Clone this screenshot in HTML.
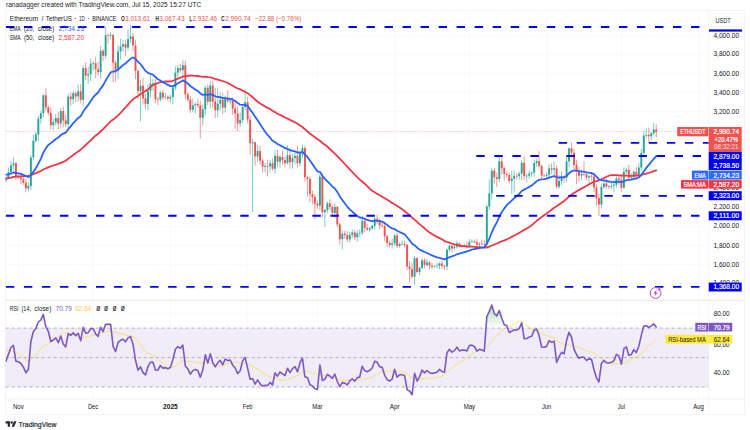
<!DOCTYPE html>
<html><head><meta charset="utf-8"><title>ETHUSDT</title>
<style>html,body{margin:0;padding:0;background:#fff;}body{width:750px;height:430px;overflow:hidden;position:relative;font-family:"Liberation Sans", sans-serif;}</style>
</head><body>
<svg width="750" height="430" viewBox="0 0 750 430" style="position:absolute;left:0;top:0;font-family:"Liberation Sans", sans-serif;filter:blur(0.35px)">
<rect width="750" height="430" fill="#fff"/>
<rect x="5.5" y="328.1" width="703.2" height="58.9" fill="#f0edf9"/>
<line x1="5.5" x2="708.7" y1="283.7" y2="283.7" stroke="#eef0f5" stroke-width="0.7" stroke-dasharray="1.1 0.9"/>
<line x1="5.5" x2="708.7" y1="264.6" y2="264.6" stroke="#eef0f5" stroke-width="0.7" stroke-dasharray="1.1 0.9"/>
<line x1="5.5" x2="708.7" y1="245.5" y2="245.5" stroke="#eef0f5" stroke-width="0.7" stroke-dasharray="1.1 0.9"/>
<line x1="5.5" x2="708.7" y1="226.4" y2="226.4" stroke="#eef0f5" stroke-width="0.7" stroke-dasharray="1.1 0.9"/>
<line x1="5.5" x2="708.7" y1="207.3" y2="207.3" stroke="#eef0f5" stroke-width="0.7" stroke-dasharray="1.1 0.9"/>
<line x1="5.5" x2="708.7" y1="188.2" y2="188.2" stroke="#eef0f5" stroke-width="0.7" stroke-dasharray="1.1 0.9"/>
<line x1="5.5" x2="708.7" y1="169.1" y2="169.1" stroke="#eef0f5" stroke-width="0.7" stroke-dasharray="1.1 0.9"/>
<line x1="5.5" x2="708.7" y1="149.9" y2="149.9" stroke="#eef0f5" stroke-width="0.7" stroke-dasharray="1.1 0.9"/>
<line x1="5.5" x2="708.7" y1="130.8" y2="130.8" stroke="#eef0f5" stroke-width="0.7" stroke-dasharray="1.1 0.9"/>
<line x1="5.5" x2="708.7" y1="111.7" y2="111.7" stroke="#eef0f5" stroke-width="0.7" stroke-dasharray="1.1 0.9"/>
<line x1="5.5" x2="708.7" y1="92.6" y2="92.6" stroke="#eef0f5" stroke-width="0.7" stroke-dasharray="1.1 0.9"/>
<line x1="5.5" x2="708.7" y1="73.5" y2="73.5" stroke="#eef0f5" stroke-width="0.7" stroke-dasharray="1.1 0.9"/>
<line x1="5.5" x2="708.7" y1="54.4" y2="54.4" stroke="#eef0f5" stroke-width="0.7" stroke-dasharray="1.1 0.9"/>
<line x1="5.5" x2="708.7" y1="35.3" y2="35.3" stroke="#eef0f5" stroke-width="0.7" stroke-dasharray="1.1 0.9"/>
<line x1="18.4" x2="18.4" y1="10.5" y2="399.0" stroke="#eef0f5" stroke-width="0.7" stroke-dasharray="1.1 0.9"/>
<line x1="93.1" x2="93.1" y1="10.5" y2="399.0" stroke="#eef0f5" stroke-width="0.7" stroke-dasharray="1.1 0.9"/>
<line x1="170.4" x2="170.4" y1="10.5" y2="399.0" stroke="#eef0f5" stroke-width="0.7" stroke-dasharray="1.1 0.9"/>
<line x1="247.6" x2="247.6" y1="10.5" y2="399.0" stroke="#eef0f5" stroke-width="0.7" stroke-dasharray="1.1 0.9"/>
<line x1="317.4" x2="317.4" y1="10.5" y2="399.0" stroke="#eef0f5" stroke-width="0.7" stroke-dasharray="1.1 0.9"/>
<line x1="394.6" x2="394.6" y1="10.5" y2="399.0" stroke="#eef0f5" stroke-width="0.7" stroke-dasharray="1.1 0.9"/>
<line x1="469.4" x2="469.4" y1="10.5" y2="399.0" stroke="#eef0f5" stroke-width="0.7" stroke-dasharray="1.1 0.9"/>
<line x1="546.6" x2="546.6" y1="10.5" y2="399.0" stroke="#eef0f5" stroke-width="0.7" stroke-dasharray="1.1 0.9"/>
<line x1="621.4" x2="621.4" y1="10.5" y2="399.0" stroke="#eef0f5" stroke-width="0.7" stroke-dasharray="1.1 0.9"/>
<line x1="698.6" x2="698.6" y1="10.5" y2="399.0" stroke="#eef0f5" stroke-width="0.7" stroke-dasharray="1.1 0.9"/>
<line x1="5.5" x2="708.7" y1="372.3" y2="372.3" stroke="#eef0f5" stroke-width="0.7" stroke-dasharray="1.1 0.9"/>
<line x1="5.5" x2="708.7" y1="342.8" y2="342.8" stroke="#eef0f5" stroke-width="0.7" stroke-dasharray="1.1 0.9"/>
<line x1="5.5" x2="708.7" y1="313.4" y2="313.4" stroke="#eef0f5" stroke-width="0.7" stroke-dasharray="1.1 0.9"/>
<rect x="5.5" y="10.5" width="739.1" height="404.1" fill="none" stroke="#e1e4ea" stroke-width="0.7" stroke-dasharray="1.1 0.9"/>
<line x1="708.7" x2="708.7" y1="10.5" y2="414.6" stroke="#e1e4ea" stroke-width="0.7" stroke-dasharray="1.1 0.9"/>
<line x1="5.5" x2="744.6" y1="300.2" y2="300.2" stroke="#e1e4ea" stroke-width="0.9"/>
<line x1="5.5" x2="744.6" y1="399.0" y2="399.0" stroke="#e1e4ea" stroke-width="0.7" stroke-dasharray="1.1 0.9"/>
<clipPath id="cp"><rect x="5.5" y="10.5" width="703.2" height="289.7"/></clipPath>
<clipPath id="rp"><rect x="5.5" y="300.2" width="703.2" height="98.8"/></clipPath>
<g clip-path="url(#cp)">
<line x1="5.5" x2="708.7" y1="131.7" y2="131.7" stroke="#ef5350" stroke-width="0.6" stroke-dasharray="0.6 0.9" opacity="0.8"/>
<line x1="5.94" x2="5.94" y1="175.2" y2="182.4" stroke="#26a69a" stroke-width="0.6"/>
<rect x="4.99" y="177.9" width="1.9" height="2.6" fill="#26a69a"/>
<line x1="8.43" x2="8.43" y1="167.6" y2="179.5" stroke="#26a69a" stroke-width="0.6"/>
<rect x="7.48" y="172.1" width="1.9" height="5.8" fill="#26a69a"/>
<line x1="10.93" x2="10.93" y1="161.2" y2="175.2" stroke="#26a69a" stroke-width="0.6"/>
<rect x="9.98" y="165.4" width="1.9" height="6.7" fill="#26a69a"/>
<line x1="13.42" x2="13.42" y1="157.4" y2="169.3" stroke="#26a69a" stroke-width="0.6"/>
<rect x="12.47" y="163.3" width="1.9" height="2.1" fill="#26a69a"/>
<line x1="15.91" x2="15.91" y1="162.0" y2="180.2" stroke="#ef5350" stroke-width="0.6"/>
<rect x="14.96" y="163.3" width="1.9" height="13.6" fill="#ef5350"/>
<line x1="18.40" x2="18.40" y1="175.4" y2="179.1" stroke="#ef5350" stroke-width="0.6"/>
<rect x="17.45" y="176.9" width="1.9" height="0.6" fill="#ef5350"/>
<line x1="20.89" x2="20.89" y1="174.2" y2="184.4" stroke="#ef5350" stroke-width="0.6"/>
<rect x="19.94" y="177.5" width="1.9" height="1.7" fill="#ef5350"/>
<line x1="23.38" x2="23.38" y1="177.5" y2="184.9" stroke="#ef5350" stroke-width="0.6"/>
<rect x="22.43" y="179.2" width="1.9" height="3.5" fill="#ef5350"/>
<line x1="25.87" x2="25.87" y1="178.6" y2="192.3" stroke="#ef5350" stroke-width="0.6"/>
<rect x="24.92" y="182.7" width="1.9" height="5.6" fill="#ef5350"/>
<line x1="28.37" x2="28.37" y1="182.1" y2="191.4" stroke="#26a69a" stroke-width="0.6"/>
<rect x="27.42" y="186.0" width="1.9" height="2.4" fill="#26a69a"/>
<line x1="30.86" x2="30.86" y1="155.2" y2="190.1" stroke="#26a69a" stroke-width="0.6"/>
<rect x="29.91" y="157.4" width="1.9" height="28.6" fill="#26a69a"/>
<line x1="33.35" x2="33.35" y1="134.5" y2="160.4" stroke="#26a69a" stroke-width="0.6"/>
<rect x="32.40" y="140.8" width="1.9" height="16.6" fill="#26a69a"/>
<line x1="35.84" x2="35.84" y1="132.3" y2="142.8" stroke="#26a69a" stroke-width="0.6"/>
<rect x="34.89" y="134.5" width="1.9" height="6.3" fill="#26a69a"/>
<line x1="38.33" x2="38.33" y1="115.4" y2="141.0" stroke="#26a69a" stroke-width="0.6"/>
<rect x="37.38" y="118.7" width="1.9" height="15.8" fill="#26a69a"/>
<line x1="40.82" x2="40.82" y1="110.7" y2="123.8" stroke="#26a69a" stroke-width="0.6"/>
<rect x="39.87" y="113.3" width="1.9" height="5.4" fill="#26a69a"/>
<line x1="43.32" x2="43.32" y1="94.1" y2="117.3" stroke="#26a69a" stroke-width="0.6"/>
<rect x="42.37" y="95.3" width="1.9" height="18.0" fill="#26a69a"/>
<line x1="45.81" x2="45.81" y1="88.3" y2="110.8" stroke="#ef5350" stroke-width="0.6"/>
<rect x="44.86" y="95.3" width="1.9" height="12.1" fill="#ef5350"/>
<line x1="48.30" x2="48.30" y1="105.6" y2="115.6" stroke="#ef5350" stroke-width="0.6"/>
<rect x="47.35" y="107.4" width="1.9" height="5.4" fill="#ef5350"/>
<line x1="50.79" x2="50.79" y1="107.3" y2="129.1" stroke="#ef5350" stroke-width="0.6"/>
<rect x="49.84" y="112.9" width="1.9" height="12.2" fill="#ef5350"/>
<line x1="53.28" x2="53.28" y1="118.9" y2="130.1" stroke="#26a69a" stroke-width="0.6"/>
<rect x="52.33" y="122.2" width="1.9" height="2.9" fill="#26a69a"/>
<line x1="55.77" x2="55.77" y1="113.9" y2="125.5" stroke="#26a69a" stroke-width="0.6"/>
<rect x="54.82" y="118.1" width="1.9" height="4.1" fill="#26a69a"/>
<line x1="58.27" x2="58.27" y1="111.9" y2="129.2" stroke="#ef5350" stroke-width="0.6"/>
<rect x="57.32" y="118.1" width="1.9" height="5.4" fill="#ef5350"/>
<line x1="60.76" x2="60.76" y1="108.0" y2="128.6" stroke="#26a69a" stroke-width="0.6"/>
<rect x="59.81" y="111.1" width="1.9" height="12.4" fill="#26a69a"/>
<line x1="63.25" x2="63.25" y1="106.4" y2="127.4" stroke="#ef5350" stroke-width="0.6"/>
<rect x="62.30" y="111.1" width="1.9" height="9.5" fill="#ef5350"/>
<line x1="65.74" x2="65.74" y1="114.7" y2="127.3" stroke="#ef5350" stroke-width="0.6"/>
<rect x="64.79" y="120.5" width="1.9" height="3.6" fill="#ef5350"/>
<line x1="68.23" x2="68.23" y1="93.6" y2="128.0" stroke="#26a69a" stroke-width="0.6"/>
<rect x="67.28" y="96.6" width="1.9" height="27.5" fill="#26a69a"/>
<line x1="70.72" x2="70.72" y1="92.3" y2="105.8" stroke="#ef5350" stroke-width="0.6"/>
<rect x="69.77" y="96.6" width="1.9" height="2.6" fill="#ef5350"/>
<line x1="73.22" x2="73.22" y1="90.6" y2="104.1" stroke="#26a69a" stroke-width="0.6"/>
<rect x="72.27" y="93.2" width="1.9" height="6.0" fill="#26a69a"/>
<line x1="75.71" x2="75.71" y1="91.4" y2="102.4" stroke="#ef5350" stroke-width="0.6"/>
<rect x="74.76" y="93.2" width="1.9" height="3.2" fill="#ef5350"/>
<line x1="78.20" x2="78.20" y1="84.5" y2="101.8" stroke="#26a69a" stroke-width="0.6"/>
<rect x="77.25" y="91.3" width="1.9" height="5.1" fill="#26a69a"/>
<line x1="80.69" x2="80.69" y1="84.0" y2="103.4" stroke="#ef5350" stroke-width="0.6"/>
<rect x="79.74" y="91.3" width="1.9" height="8.5" fill="#ef5350"/>
<line x1="83.18" x2="83.18" y1="65.4" y2="105.8" stroke="#26a69a" stroke-width="0.6"/>
<rect x="82.23" y="68.1" width="1.9" height="31.7" fill="#26a69a"/>
<line x1="85.67" x2="85.67" y1="62.3" y2="80.4" stroke="#ef5350" stroke-width="0.6"/>
<rect x="84.72" y="68.1" width="1.9" height="7.5" fill="#ef5350"/>
<line x1="88.16" x2="88.16" y1="66.5" y2="83.9" stroke="#26a69a" stroke-width="0.6"/>
<rect x="87.21" y="74.2" width="1.9" height="1.3" fill="#26a69a"/>
<line x1="90.66" x2="90.66" y1="58.4" y2="80.8" stroke="#26a69a" stroke-width="0.6"/>
<rect x="89.71" y="63.6" width="1.9" height="10.6" fill="#26a69a"/>
<line x1="93.15" x2="93.15" y1="61.1" y2="70.5" stroke="#26a69a" stroke-width="0.6"/>
<rect x="92.20" y="63.2" width="1.9" height="0.6" fill="#26a69a"/>
<line x1="95.64" x2="95.64" y1="56.8" y2="78.2" stroke="#ef5350" stroke-width="0.6"/>
<rect x="94.69" y="63.2" width="1.9" height="6.1" fill="#ef5350"/>
<line x1="98.13" x2="98.13" y1="61.7" y2="75.8" stroke="#ef5350" stroke-width="0.6"/>
<rect x="97.18" y="69.3" width="1.9" height="2.8" fill="#ef5350"/>
<line x1="100.62" x2="100.62" y1="46.1" y2="78.9" stroke="#26a69a" stroke-width="0.6"/>
<rect x="99.67" y="50.8" width="1.9" height="21.3" fill="#26a69a"/>
<line x1="103.11" x2="103.11" y1="48.9" y2="61.0" stroke="#ef5350" stroke-width="0.6"/>
<rect x="102.16" y="50.8" width="1.9" height="5.0" fill="#ef5350"/>
<line x1="105.61" x2="105.61" y1="27.0" y2="58.5" stroke="#26a69a" stroke-width="0.6"/>
<rect x="104.66" y="35.4" width="1.9" height="20.4" fill="#26a69a"/>
<line x1="108.10" x2="108.10" y1="33.1" y2="43.5" stroke="#ef5350" stroke-width="0.6"/>
<rect x="107.15" y="35.4" width="1.9" height="0.6" fill="#ef5350"/>
<line x1="110.59" x2="110.59" y1="32.0" y2="39.4" stroke="#26a69a" stroke-width="0.6"/>
<rect x="109.64" y="34.8" width="1.9" height="0.8" fill="#26a69a"/>
<line x1="113.08" x2="113.08" y1="34.8" y2="82.1" stroke="#ef5350" stroke-width="0.6"/>
<rect x="112.13" y="34.8" width="1.9" height="27.9" fill="#ef5350"/>
<line x1="115.57" x2="115.57" y1="60.5" y2="81.6" stroke="#ef5350" stroke-width="0.6"/>
<rect x="114.62" y="62.7" width="1.9" height="8.1" fill="#ef5350"/>
<line x1="118.06" x2="118.06" y1="45.4" y2="79.3" stroke="#26a69a" stroke-width="0.6"/>
<rect x="117.11" y="51.4" width="1.9" height="19.5" fill="#26a69a"/>
<line x1="120.56" x2="120.56" y1="38.5" y2="59.8" stroke="#26a69a" stroke-width="0.6"/>
<rect x="119.61" y="46.6" width="1.9" height="4.8" fill="#26a69a"/>
<line x1="123.05" x2="123.05" y1="40.2" y2="51.6" stroke="#26a69a" stroke-width="0.6"/>
<rect x="122.10" y="44.2" width="1.9" height="2.4" fill="#26a69a"/>
<line x1="125.54" x2="125.54" y1="39.7" y2="56.2" stroke="#ef5350" stroke-width="0.6"/>
<rect x="124.59" y="44.2" width="1.9" height="3.4" fill="#ef5350"/>
<line x1="128.03" x2="128.03" y1="29.8" y2="50.6" stroke="#26a69a" stroke-width="0.6"/>
<rect x="127.08" y="39.1" width="1.9" height="8.5" fill="#26a69a"/>
<line x1="130.52" x2="130.52" y1="25.1" y2="42.8" stroke="#26a69a" stroke-width="0.6"/>
<rect x="129.57" y="36.5" width="1.9" height="2.6" fill="#26a69a"/>
<line x1="133.01" x2="133.01" y1="33.0" y2="51.1" stroke="#ef5350" stroke-width="0.6"/>
<rect x="132.06" y="36.5" width="1.9" height="9.0" fill="#ef5350"/>
<line x1="135.51" x2="135.51" y1="39.6" y2="79.2" stroke="#ef5350" stroke-width="0.6"/>
<rect x="134.56" y="45.5" width="1.9" height="25.4" fill="#ef5350"/>
<line x1="138.00" x2="138.00" y1="69.4" y2="99.3" stroke="#ef5350" stroke-width="0.6"/>
<rect x="137.05" y="70.9" width="1.9" height="20.1" fill="#ef5350"/>
<line x1="140.49" x2="140.49" y1="80.2" y2="121.3" stroke="#26a69a" stroke-width="0.6"/>
<rect x="139.54" y="85.7" width="1.9" height="5.3" fill="#26a69a"/>
<line x1="142.98" x2="142.98" y1="77.9" y2="104.6" stroke="#ef5350" stroke-width="0.6"/>
<rect x="142.03" y="85.7" width="1.9" height="12.7" fill="#ef5350"/>
<line x1="145.47" x2="145.47" y1="93.6" y2="109.7" stroke="#ef5350" stroke-width="0.6"/>
<rect x="144.52" y="98.5" width="1.9" height="5.4" fill="#ef5350"/>
<line x1="147.96" x2="147.96" y1="84.5" y2="110.2" stroke="#26a69a" stroke-width="0.6"/>
<rect x="147.01" y="90.7" width="1.9" height="13.2" fill="#26a69a"/>
<line x1="150.45" x2="150.45" y1="75.8" y2="97.7" stroke="#26a69a" stroke-width="0.6"/>
<rect x="149.50" y="83.6" width="1.9" height="7.1" fill="#26a69a"/>
<line x1="152.95" x2="152.95" y1="78.8" y2="90.8" stroke="#26a69a" stroke-width="0.6"/>
<rect x="152.00" y="83.4" width="1.9" height="0.6" fill="#26a69a"/>
<line x1="155.44" x2="155.44" y1="79.2" y2="103.2" stroke="#ef5350" stroke-width="0.6"/>
<rect x="154.49" y="83.4" width="1.9" height="15.7" fill="#ef5350"/>
<line x1="157.93" x2="157.93" y1="96.8" y2="105.1" stroke="#ef5350" stroke-width="0.6"/>
<rect x="156.98" y="99.0" width="1.9" height="0.6" fill="#ef5350"/>
<line x1="160.42" x2="160.42" y1="90.7" y2="101.4" stroke="#26a69a" stroke-width="0.6"/>
<rect x="159.47" y="92.6" width="1.9" height="6.8" fill="#26a69a"/>
<line x1="162.91" x2="162.91" y1="89.7" y2="100.0" stroke="#ef5350" stroke-width="0.6"/>
<rect x="161.96" y="92.6" width="1.9" height="4.8" fill="#ef5350"/>
<line x1="165.40" x2="165.40" y1="92.9" y2="99.3" stroke="#26a69a" stroke-width="0.6"/>
<rect x="164.45" y="96.7" width="1.9" height="0.7" fill="#26a69a"/>
<line x1="167.90" x2="167.90" y1="95.2" y2="101.2" stroke="#ef5350" stroke-width="0.6"/>
<rect x="166.95" y="96.7" width="1.9" height="1.9" fill="#ef5350"/>
<line x1="170.39" x2="170.39" y1="94.8" y2="102.6" stroke="#26a69a" stroke-width="0.6"/>
<rect x="169.44" y="97.0" width="1.9" height="1.6" fill="#26a69a"/>
<line x1="172.88" x2="172.88" y1="85.6" y2="104.6" stroke="#26a69a" stroke-width="0.6"/>
<rect x="171.93" y="87.4" width="1.9" height="9.6" fill="#26a69a"/>
<line x1="175.37" x2="175.37" y1="66.5" y2="90.1" stroke="#26a69a" stroke-width="0.6"/>
<rect x="174.42" y="72.6" width="1.9" height="14.8" fill="#26a69a"/>
<line x1="177.86" x2="177.86" y1="64.6" y2="76.8" stroke="#26a69a" stroke-width="0.6"/>
<rect x="176.91" y="68.1" width="1.9" height="4.5" fill="#26a69a"/>
<line x1="180.35" x2="180.35" y1="63.8" y2="72.7" stroke="#ef5350" stroke-width="0.6"/>
<rect x="179.40" y="68.1" width="1.9" height="2.1" fill="#ef5350"/>
<line x1="182.85" x2="182.85" y1="59.8" y2="79.2" stroke="#26a69a" stroke-width="0.6"/>
<rect x="181.90" y="65.2" width="1.9" height="5.0" fill="#26a69a"/>
<line x1="185.34" x2="185.34" y1="60.5" y2="99.2" stroke="#ef5350" stroke-width="0.6"/>
<rect x="184.39" y="65.2" width="1.9" height="29.2" fill="#ef5350"/>
<line x1="187.83" x2="187.83" y1="92.4" y2="101.8" stroke="#ef5350" stroke-width="0.6"/>
<rect x="186.88" y="94.4" width="1.9" height="5.2" fill="#ef5350"/>
<line x1="190.32" x2="190.32" y1="95.9" y2="113.1" stroke="#ef5350" stroke-width="0.6"/>
<rect x="189.37" y="99.6" width="1.9" height="10.3" fill="#ef5350"/>
<line x1="192.81" x2="192.81" y1="98.4" y2="112.5" stroke="#26a69a" stroke-width="0.6"/>
<rect x="191.86" y="105.3" width="1.9" height="4.6" fill="#26a69a"/>
<line x1="195.30" x2="195.30" y1="102.3" y2="113.1" stroke="#26a69a" stroke-width="0.6"/>
<rect x="194.35" y="103.9" width="1.9" height="1.4" fill="#26a69a"/>
<line x1="197.80" x2="197.80" y1="99.0" y2="107.9" stroke="#ef5350" stroke-width="0.6"/>
<rect x="196.85" y="103.9" width="1.9" height="1.5" fill="#ef5350"/>
<line x1="200.29" x2="200.29" y1="100.6" y2="138.5" stroke="#ef5350" stroke-width="0.6"/>
<rect x="199.34" y="105.4" width="1.9" height="12.3" fill="#ef5350"/>
<line x1="202.78" x2="202.78" y1="104.5" y2="125.5" stroke="#26a69a" stroke-width="0.6"/>
<rect x="201.83" y="109.3" width="1.9" height="8.4" fill="#26a69a"/>
<line x1="205.27" x2="205.27" y1="85.6" y2="115.7" stroke="#26a69a" stroke-width="0.6"/>
<rect x="204.32" y="87.8" width="1.9" height="21.6" fill="#26a69a"/>
<line x1="207.76" x2="207.76" y1="84.5" y2="105.4" stroke="#ef5350" stroke-width="0.6"/>
<rect x="206.81" y="87.8" width="1.9" height="13.8" fill="#ef5350"/>
<line x1="210.25" x2="210.25" y1="80.7" y2="108.4" stroke="#26a69a" stroke-width="0.6"/>
<rect x="209.30" y="85.6" width="1.9" height="16.0" fill="#26a69a"/>
<line x1="212.74" x2="212.74" y1="80.5" y2="108.2" stroke="#ef5350" stroke-width="0.6"/>
<rect x="211.79" y="85.6" width="1.9" height="16.0" fill="#ef5350"/>
<line x1="215.24" x2="215.24" y1="87.9" y2="118.4" stroke="#ef5350" stroke-width="0.6"/>
<rect x="214.29" y="101.5" width="1.9" height="8.8" fill="#ef5350"/>
<line x1="217.73" x2="217.73" y1="87.8" y2="117.3" stroke="#26a69a" stroke-width="0.6"/>
<rect x="216.78" y="103.7" width="1.9" height="6.6" fill="#26a69a"/>
<line x1="220.22" x2="220.22" y1="92.4" y2="110.6" stroke="#26a69a" stroke-width="0.6"/>
<rect x="219.27" y="99.6" width="1.9" height="4.1" fill="#26a69a"/>
<line x1="222.71" x2="222.71" y1="92.8" y2="114.0" stroke="#ef5350" stroke-width="0.6"/>
<rect x="221.76" y="99.6" width="1.9" height="8.1" fill="#ef5350"/>
<line x1="225.20" x2="225.20" y1="95.5" y2="112.7" stroke="#26a69a" stroke-width="0.6"/>
<rect x="224.25" y="98.5" width="1.9" height="9.2" fill="#26a69a"/>
<line x1="227.69" x2="227.69" y1="89.9" y2="102.9" stroke="#ef5350" stroke-width="0.6"/>
<rect x="226.74" y="98.5" width="1.9" height="2.7" fill="#ef5350"/>
<line x1="230.19" x2="230.19" y1="98.7" y2="104.6" stroke="#26a69a" stroke-width="0.6"/>
<rect x="229.24" y="100.4" width="1.9" height="0.9" fill="#26a69a"/>
<line x1="232.68" x2="232.68" y1="97.2" y2="114.6" stroke="#ef5350" stroke-width="0.6"/>
<rect x="231.73" y="100.4" width="1.9" height="8.3" fill="#ef5350"/>
<line x1="235.17" x2="235.17" y1="101.2" y2="128.9" stroke="#ef5350" stroke-width="0.6"/>
<rect x="234.22" y="108.7" width="1.9" height="4.8" fill="#ef5350"/>
<line x1="237.66" x2="237.66" y1="106.3" y2="131.0" stroke="#ef5350" stroke-width="0.6"/>
<rect x="236.71" y="113.5" width="1.9" height="10.0" fill="#ef5350"/>
<line x1="240.15" x2="240.15" y1="112.6" y2="127.2" stroke="#26a69a" stroke-width="0.6"/>
<rect x="239.20" y="119.9" width="1.9" height="3.5" fill="#26a69a"/>
<line x1="242.64" x2="242.64" y1="104.2" y2="122.9" stroke="#26a69a" stroke-width="0.6"/>
<rect x="241.69" y="107.1" width="1.9" height="12.8" fill="#26a69a"/>
<line x1="245.14" x2="245.14" y1="89.1" y2="110.0" stroke="#26a69a" stroke-width="0.6"/>
<rect x="244.19" y="102.2" width="1.9" height="5.0" fill="#26a69a"/>
<line x1="247.63" x2="247.63" y1="96.9" y2="123.2" stroke="#ef5350" stroke-width="0.6"/>
<rect x="246.68" y="102.2" width="1.9" height="17.4" fill="#ef5350"/>
<line x1="250.12" x2="250.12" y1="115.6" y2="154.7" stroke="#ef5350" stroke-width="0.6"/>
<rect x="249.17" y="119.6" width="1.9" height="23.7" fill="#ef5350"/>
<line x1="252.61" x2="252.61" y1="138.5" y2="212.0" stroke="#26a69a" stroke-width="0.6"/>
<rect x="251.66" y="142.3" width="1.9" height="1.0" fill="#26a69a"/>
<line x1="255.10" x2="255.10" y1="141.3" y2="165.7" stroke="#ef5350" stroke-width="0.6"/>
<rect x="254.15" y="142.3" width="1.9" height="14.1" fill="#ef5350"/>
<line x1="257.59" x2="257.59" y1="144.8" y2="162.1" stroke="#26a69a" stroke-width="0.6"/>
<rect x="256.64" y="151.1" width="1.9" height="5.4" fill="#26a69a"/>
<line x1="260.09" x2="260.09" y1="145.9" y2="164.5" stroke="#ef5350" stroke-width="0.6"/>
<rect x="259.14" y="151.1" width="1.9" height="9.6" fill="#ef5350"/>
<line x1="262.58" x2="262.58" y1="158.6" y2="172.7" stroke="#ef5350" stroke-width="0.6"/>
<rect x="261.63" y="160.7" width="1.9" height="6.1" fill="#ef5350"/>
<line x1="265.07" x2="265.07" y1="163.0" y2="172.3" stroke="#26a69a" stroke-width="0.6"/>
<rect x="264.12" y="165.9" width="1.9" height="1.0" fill="#26a69a"/>
<line x1="267.56" x2="267.56" y1="159.6" y2="176.5" stroke="#ef5350" stroke-width="0.6"/>
<rect x="266.61" y="165.9" width="1.9" height="0.6" fill="#ef5350"/>
<line x1="270.05" x2="270.05" y1="159.9" y2="172.6" stroke="#26a69a" stroke-width="0.6"/>
<rect x="269.10" y="163.2" width="1.9" height="3.2" fill="#26a69a"/>
<line x1="272.54" x2="272.54" y1="158.3" y2="170.8" stroke="#ef5350" stroke-width="0.6"/>
<rect x="271.59" y="163.2" width="1.9" height="5.5" fill="#ef5350"/>
<line x1="275.03" x2="275.03" y1="150.4" y2="173.8" stroke="#26a69a" stroke-width="0.6"/>
<rect x="274.08" y="155.8" width="1.9" height="13.0" fill="#26a69a"/>
<line x1="277.53" x2="277.53" y1="149.7" y2="167.3" stroke="#ef5350" stroke-width="0.6"/>
<rect x="276.58" y="155.8" width="1.9" height="6.0" fill="#ef5350"/>
<line x1="280.02" x2="280.02" y1="155.0" y2="167.5" stroke="#26a69a" stroke-width="0.6"/>
<rect x="279.07" y="157.0" width="1.9" height="4.8" fill="#26a69a"/>
<line x1="282.51" x2="282.51" y1="150.5" y2="164.8" stroke="#ef5350" stroke-width="0.6"/>
<rect x="281.56" y="157.0" width="1.9" height="3.1" fill="#ef5350"/>
<line x1="285.00" x2="285.00" y1="157.0" y2="167.3" stroke="#ef5350" stroke-width="0.6"/>
<rect x="284.05" y="160.1" width="1.9" height="3.1" fill="#ef5350"/>
<line x1="287.49" x2="287.49" y1="145.2" y2="164.5" stroke="#26a69a" stroke-width="0.6"/>
<rect x="286.54" y="155.3" width="1.9" height="7.8" fill="#26a69a"/>
<line x1="289.98" x2="289.98" y1="148.9" y2="168.6" stroke="#ef5350" stroke-width="0.6"/>
<rect x="289.03" y="155.3" width="1.9" height="6.9" fill="#ef5350"/>
<line x1="292.48" x2="292.48" y1="153.9" y2="168.5" stroke="#26a69a" stroke-width="0.6"/>
<rect x="291.53" y="158.0" width="1.9" height="4.2" fill="#26a69a"/>
<line x1="294.97" x2="294.97" y1="152.3" y2="164.0" stroke="#26a69a" stroke-width="0.6"/>
<rect x="294.02" y="155.9" width="1.9" height="2.1" fill="#26a69a"/>
<line x1="297.46" x2="297.46" y1="145.6" y2="167.5" stroke="#ef5350" stroke-width="0.6"/>
<rect x="296.51" y="155.9" width="1.9" height="7.3" fill="#ef5350"/>
<line x1="299.95" x2="299.95" y1="150.7" y2="166.0" stroke="#26a69a" stroke-width="0.6"/>
<rect x="299.00" y="153.4" width="1.9" height="9.7" fill="#26a69a"/>
<line x1="302.44" x2="302.44" y1="144.5" y2="158.0" stroke="#26a69a" stroke-width="0.6"/>
<rect x="301.49" y="148.1" width="1.9" height="5.3" fill="#26a69a"/>
<line x1="304.93" x2="304.93" y1="145.7" y2="181.5" stroke="#ef5350" stroke-width="0.6"/>
<rect x="303.98" y="148.1" width="1.9" height="29.1" fill="#ef5350"/>
<line x1="307.43" x2="307.43" y1="175.5" y2="196.3" stroke="#ef5350" stroke-width="0.6"/>
<rect x="306.48" y="177.3" width="1.9" height="1.7" fill="#ef5350"/>
<line x1="309.92" x2="309.92" y1="176.3" y2="202.2" stroke="#ef5350" stroke-width="0.6"/>
<rect x="308.97" y="179.0" width="1.9" height="15.2" fill="#ef5350"/>
<line x1="312.41" x2="312.41" y1="190.4" y2="204.4" stroke="#ef5350" stroke-width="0.6"/>
<rect x="311.46" y="194.2" width="1.9" height="2.9" fill="#ef5350"/>
<line x1="314.90" x2="314.90" y1="194.2" y2="219.1" stroke="#ef5350" stroke-width="0.6"/>
<rect x="313.95" y="197.0" width="1.9" height="6.7" fill="#ef5350"/>
<line x1="317.39" x2="317.39" y1="200.5" y2="209.0" stroke="#ef5350" stroke-width="0.6"/>
<rect x="316.44" y="203.7" width="1.9" height="1.9" fill="#ef5350"/>
<line x1="319.88" x2="319.88" y1="173.8" y2="210.1" stroke="#26a69a" stroke-width="0.6"/>
<rect x="318.93" y="176.7" width="1.9" height="28.9" fill="#26a69a"/>
<line x1="322.38" x2="322.38" y1="173.8" y2="217.3" stroke="#ef5350" stroke-width="0.6"/>
<rect x="321.43" y="176.7" width="1.9" height="35.4" fill="#ef5350"/>
<line x1="324.87" x2="324.87" y1="209.0" y2="226.9" stroke="#26a69a" stroke-width="0.6"/>
<rect x="323.92" y="210.0" width="1.9" height="2.1" fill="#26a69a"/>
<line x1="327.36" x2="327.36" y1="201.5" y2="213.2" stroke="#26a69a" stroke-width="0.6"/>
<rect x="326.41" y="203.3" width="1.9" height="6.8" fill="#26a69a"/>
<line x1="329.85" x2="329.85" y1="199.1" y2="210.4" stroke="#ef5350" stroke-width="0.6"/>
<rect x="328.90" y="203.3" width="1.9" height="3.7" fill="#ef5350"/>
<line x1="332.34" x2="332.34" y1="204.6" y2="216.1" stroke="#ef5350" stroke-width="0.6"/>
<rect x="331.39" y="207.0" width="1.9" height="5.9" fill="#ef5350"/>
<line x1="334.83" x2="334.83" y1="203.5" y2="217.4" stroke="#26a69a" stroke-width="0.6"/>
<rect x="333.88" y="207.0" width="1.9" height="5.9" fill="#26a69a"/>
<line x1="337.32" x2="337.32" y1="205.6" y2="227.3" stroke="#ef5350" stroke-width="0.6"/>
<rect x="336.37" y="207.0" width="1.9" height="17.5" fill="#ef5350"/>
<line x1="339.82" x2="339.82" y1="222.7" y2="244.5" stroke="#ef5350" stroke-width="0.6"/>
<rect x="338.87" y="224.5" width="1.9" height="14.7" fill="#ef5350"/>
<line x1="342.31" x2="342.31" y1="229.9" y2="249.3" stroke="#26a69a" stroke-width="0.6"/>
<rect x="341.36" y="233.7" width="1.9" height="5.4" fill="#26a69a"/>
<line x1="344.80" x2="344.80" y1="230.7" y2="238.8" stroke="#ef5350" stroke-width="0.6"/>
<rect x="343.85" y="233.7" width="1.9" height="1.3" fill="#ef5350"/>
<line x1="347.29" x2="347.29" y1="230.8" y2="241.9" stroke="#ef5350" stroke-width="0.6"/>
<rect x="346.34" y="235.1" width="1.9" height="4.3" fill="#ef5350"/>
<line x1="349.78" x2="349.78" y1="231.6" y2="242.2" stroke="#26a69a" stroke-width="0.6"/>
<rect x="348.83" y="234.8" width="1.9" height="4.6" fill="#26a69a"/>
<line x1="352.27" x2="352.27" y1="229.5" y2="238.3" stroke="#26a69a" stroke-width="0.6"/>
<rect x="351.32" y="232.4" width="1.9" height="2.4" fill="#26a69a"/>
<line x1="354.77" x2="354.77" y1="229.8" y2="240.0" stroke="#ef5350" stroke-width="0.6"/>
<rect x="353.82" y="232.4" width="1.9" height="4.8" fill="#ef5350"/>
<line x1="357.26" x2="357.26" y1="230.6" y2="241.7" stroke="#26a69a" stroke-width="0.6"/>
<rect x="356.31" y="233.4" width="1.9" height="3.8" fill="#26a69a"/>
<line x1="359.75" x2="359.75" y1="229.3" y2="237.6" stroke="#26a69a" stroke-width="0.6"/>
<rect x="358.80" y="232.9" width="1.9" height="0.6" fill="#26a69a"/>
<line x1="362.24" x2="362.24" y1="216.1" y2="234.9" stroke="#26a69a" stroke-width="0.6"/>
<rect x="361.29" y="220.9" width="1.9" height="11.9" fill="#26a69a"/>
<line x1="364.73" x2="364.73" y1="217.8" y2="232.5" stroke="#ef5350" stroke-width="0.6"/>
<rect x="363.78" y="220.9" width="1.9" height="7.0" fill="#ef5350"/>
<line x1="367.22" x2="367.22" y1="223.7" y2="231.1" stroke="#ef5350" stroke-width="0.6"/>
<rect x="366.27" y="227.9" width="1.9" height="1.7" fill="#ef5350"/>
<line x1="369.72" x2="369.72" y1="226.8" y2="232.3" stroke="#26a69a" stroke-width="0.6"/>
<rect x="368.77" y="228.2" width="1.9" height="1.4" fill="#26a69a"/>
<line x1="372.21" x2="372.21" y1="224.6" y2="230.1" stroke="#26a69a" stroke-width="0.6"/>
<rect x="371.26" y="225.8" width="1.9" height="2.4" fill="#26a69a"/>
<line x1="374.70" x2="374.70" y1="217.4" y2="229.5" stroke="#26a69a" stroke-width="0.6"/>
<rect x="373.75" y="218.6" width="1.9" height="7.2" fill="#26a69a"/>
<line x1="377.19" x2="377.19" y1="214.5" y2="224.6" stroke="#ef5350" stroke-width="0.6"/>
<rect x="376.24" y="218.6" width="1.9" height="1.3" fill="#ef5350"/>
<line x1="379.68" x2="379.68" y1="218.4" y2="229.2" stroke="#ef5350" stroke-width="0.6"/>
<rect x="378.73" y="220.0" width="1.9" height="5.4" fill="#ef5350"/>
<line x1="382.17" x2="382.17" y1="221.9" y2="227.6" stroke="#ef5350" stroke-width="0.6"/>
<rect x="381.22" y="225.4" width="1.9" height="0.7" fill="#ef5350"/>
<line x1="384.67" x2="384.67" y1="221.9" y2="240.8" stroke="#ef5350" stroke-width="0.6"/>
<rect x="383.72" y="226.1" width="1.9" height="10.2" fill="#ef5350"/>
<line x1="387.16" x2="387.16" y1="234.7" y2="247.1" stroke="#ef5350" stroke-width="0.6"/>
<rect x="386.21" y="236.3" width="1.9" height="6.5" fill="#ef5350"/>
<line x1="389.65" x2="389.65" y1="240.6" y2="247.4" stroke="#ef5350" stroke-width="0.6"/>
<rect x="388.70" y="242.8" width="1.9" height="2.0" fill="#ef5350"/>
<line x1="392.14" x2="392.14" y1="239.0" y2="248.7" stroke="#26a69a" stroke-width="0.6"/>
<rect x="391.19" y="243.4" width="1.9" height="1.4" fill="#26a69a"/>
<line x1="394.63" x2="394.63" y1="234.0" y2="245.9" stroke="#26a69a" stroke-width="0.6"/>
<rect x="393.68" y="235.5" width="1.9" height="7.9" fill="#26a69a"/>
<line x1="397.12" x2="397.12" y1="232.8" y2="248.0" stroke="#ef5350" stroke-width="0.6"/>
<rect x="396.17" y="235.5" width="1.9" height="10.5" fill="#ef5350"/>
<line x1="399.61" x2="399.61" y1="242.3" y2="247.9" stroke="#26a69a" stroke-width="0.6"/>
<rect x="398.66" y="243.9" width="1.9" height="2.1" fill="#26a69a"/>
<line x1="402.11" x2="402.11" y1="240.4" y2="244.8" stroke="#26a69a" stroke-width="0.6"/>
<rect x="401.16" y="243.9" width="1.9" height="0.6" fill="#26a69a"/>
<line x1="404.60" x2="404.60" y1="241.0" y2="247.3" stroke="#ef5350" stroke-width="0.6"/>
<rect x="403.65" y="243.9" width="1.9" height="1.1" fill="#ef5350"/>
<line x1="407.09" x2="407.09" y1="244.1" y2="270.3" stroke="#ef5350" stroke-width="0.6"/>
<rect x="406.14" y="244.9" width="1.9" height="21.6" fill="#ef5350"/>
<line x1="409.58" x2="409.58" y1="260.8" y2="282.6" stroke="#ef5350" stroke-width="0.6"/>
<rect x="408.63" y="266.5" width="1.9" height="2.6" fill="#ef5350"/>
<line x1="412.07" x2="412.07" y1="262.7" y2="278.9" stroke="#ef5350" stroke-width="0.6"/>
<rect x="411.12" y="269.1" width="1.9" height="7.6" fill="#ef5350"/>
<line x1="414.56" x2="414.56" y1="256.0" y2="285.1" stroke="#26a69a" stroke-width="0.6"/>
<rect x="413.61" y="258.1" width="1.9" height="18.6" fill="#26a69a"/>
<line x1="417.06" x2="417.06" y1="257.1" y2="273.6" stroke="#ef5350" stroke-width="0.6"/>
<rect x="416.11" y="258.1" width="1.9" height="13.9" fill="#ef5350"/>
<line x1="419.55" x2="419.55" y1="266.9" y2="275.2" stroke="#26a69a" stroke-width="0.6"/>
<rect x="418.60" y="267.7" width="1.9" height="4.3" fill="#26a69a"/>
<line x1="422.04" x2="422.04" y1="258.8" y2="268.9" stroke="#26a69a" stroke-width="0.6"/>
<rect x="421.09" y="260.4" width="1.9" height="7.4" fill="#26a69a"/>
<line x1="424.53" x2="424.53" y1="258.3" y2="268.5" stroke="#ef5350" stroke-width="0.6"/>
<rect x="423.58" y="260.4" width="1.9" height="4.5" fill="#ef5350"/>
<line x1="427.02" x2="427.02" y1="259.0" y2="266.5" stroke="#26a69a" stroke-width="0.6"/>
<rect x="426.07" y="262.4" width="1.9" height="2.5" fill="#26a69a"/>
<line x1="429.51" x2="429.51" y1="261.2" y2="269.3" stroke="#ef5350" stroke-width="0.6"/>
<rect x="428.56" y="262.4" width="1.9" height="3.2" fill="#ef5350"/>
<line x1="432.01" x2="432.01" y1="263.1" y2="269.6" stroke="#ef5350" stroke-width="0.6"/>
<rect x="431.06" y="265.6" width="1.9" height="1.1" fill="#ef5350"/>
<line x1="434.50" x2="434.50" y1="265.2" y2="267.6" stroke="#26a69a" stroke-width="0.6"/>
<rect x="433.55" y="266.2" width="1.9" height="0.6" fill="#26a69a"/>
<line x1="436.99" x2="436.99" y1="262.7" y2="268.3" stroke="#26a69a" stroke-width="0.6"/>
<rect x="436.04" y="265.6" width="1.9" height="0.6" fill="#26a69a"/>
<line x1="439.48" x2="439.48" y1="262.4" y2="269.4" stroke="#26a69a" stroke-width="0.6"/>
<rect x="438.53" y="263.4" width="1.9" height="2.3" fill="#26a69a"/>
<line x1="441.97" x2="441.97" y1="260.6" y2="269.0" stroke="#ef5350" stroke-width="0.6"/>
<rect x="441.02" y="263.4" width="1.9" height="2.4" fill="#ef5350"/>
<line x1="444.46" x2="444.46" y1="264.8" y2="269.9" stroke="#ef5350" stroke-width="0.6"/>
<rect x="443.51" y="265.7" width="1.9" height="0.8" fill="#ef5350"/>
<line x1="446.96" x2="446.96" y1="248.6" y2="270.3" stroke="#26a69a" stroke-width="0.6"/>
<rect x="446.01" y="249.6" width="1.9" height="16.9" fill="#26a69a"/>
<line x1="449.45" x2="449.45" y1="243.4" y2="251.6" stroke="#26a69a" stroke-width="0.6"/>
<rect x="448.50" y="245.9" width="1.9" height="3.7" fill="#26a69a"/>
<line x1="451.94" x2="451.94" y1="243.1" y2="252.4" stroke="#ef5350" stroke-width="0.6"/>
<rect x="450.99" y="245.9" width="1.9" height="2.5" fill="#ef5350"/>
<line x1="454.43" x2="454.43" y1="245.1" y2="249.6" stroke="#26a69a" stroke-width="0.6"/>
<rect x="453.48" y="246.8" width="1.9" height="1.5" fill="#26a69a"/>
<line x1="456.92" x2="456.92" y1="240.6" y2="248.5" stroke="#26a69a" stroke-width="0.6"/>
<rect x="455.97" y="243.4" width="1.9" height="3.4" fill="#26a69a"/>
<line x1="459.41" x2="459.41" y1="242.2" y2="247.6" stroke="#ef5350" stroke-width="0.6"/>
<rect x="458.46" y="243.4" width="1.9" height="2.9" fill="#ef5350"/>
<line x1="461.90" x2="461.90" y1="244.6" y2="247.8" stroke="#26a69a" stroke-width="0.6"/>
<rect x="460.95" y="245.6" width="1.9" height="0.7" fill="#26a69a"/>
<line x1="464.40" x2="464.40" y1="243.6" y2="247.5" stroke="#26a69a" stroke-width="0.6"/>
<rect x="463.45" y="245.6" width="1.9" height="0.6" fill="#26a69a"/>
<line x1="466.89" x2="466.89" y1="242.0" y2="247.9" stroke="#ef5350" stroke-width="0.6"/>
<rect x="465.94" y="245.6" width="1.9" height="0.6" fill="#ef5350"/>
<line x1="469.38" x2="469.38" y1="239.1" y2="247.5" stroke="#26a69a" stroke-width="0.6"/>
<rect x="468.43" y="241.8" width="1.9" height="4.3" fill="#26a69a"/>
<line x1="471.87" x2="471.87" y1="239.4" y2="242.7" stroke="#26a69a" stroke-width="0.6"/>
<rect x="470.92" y="241.5" width="1.9" height="0.6" fill="#26a69a"/>
<line x1="474.36" x2="474.36" y1="239.7" y2="243.1" stroke="#ef5350" stroke-width="0.6"/>
<rect x="473.41" y="241.5" width="1.9" height="0.8" fill="#ef5350"/>
<line x1="476.85" x2="476.85" y1="238.8" y2="247.5" stroke="#ef5350" stroke-width="0.6"/>
<rect x="475.90" y="242.2" width="1.9" height="2.5" fill="#ef5350"/>
<line x1="479.35" x2="479.35" y1="242.1" y2="247.3" stroke="#26a69a" stroke-width="0.6"/>
<rect x="478.40" y="243.6" width="1.9" height="1.1" fill="#26a69a"/>
<line x1="481.84" x2="481.84" y1="239.4" y2="245.2" stroke="#ef5350" stroke-width="0.6"/>
<rect x="480.89" y="243.6" width="1.9" height="0.6" fill="#ef5350"/>
<line x1="484.33" x2="484.33" y1="240.2" y2="246.8" stroke="#ef5350" stroke-width="0.6"/>
<rect x="483.38" y="244.0" width="1.9" height="0.6" fill="#ef5350"/>
<line x1="486.82" x2="486.82" y1="204.9" y2="249.1" stroke="#26a69a" stroke-width="0.6"/>
<rect x="485.87" y="206.6" width="1.9" height="37.8" fill="#26a69a"/>
<line x1="489.31" x2="489.31" y1="179.6" y2="210.0" stroke="#26a69a" stroke-width="0.6"/>
<rect x="488.36" y="193.3" width="1.9" height="13.3" fill="#26a69a"/>
<line x1="491.80" x2="491.80" y1="168.2" y2="199.6" stroke="#26a69a" stroke-width="0.6"/>
<rect x="490.85" y="170.7" width="1.9" height="22.6" fill="#26a69a"/>
<line x1="494.30" x2="494.30" y1="167.8" y2="183.9" stroke="#ef5350" stroke-width="0.6"/>
<rect x="493.35" y="170.7" width="1.9" height="6.6" fill="#ef5350"/>
<line x1="496.79" x2="496.79" y1="172.6" y2="186.9" stroke="#ef5350" stroke-width="0.6"/>
<rect x="495.84" y="177.3" width="1.9" height="1.7" fill="#ef5350"/>
<line x1="499.28" x2="499.28" y1="155.9" y2="182.1" stroke="#26a69a" stroke-width="0.6"/>
<rect x="498.33" y="161.4" width="1.9" height="17.6" fill="#26a69a"/>
<line x1="501.77" x2="501.77" y1="157.1" y2="174.3" stroke="#ef5350" stroke-width="0.6"/>
<rect x="500.82" y="161.4" width="1.9" height="6.7" fill="#ef5350"/>
<line x1="504.26" x2="504.26" y1="166.6" y2="180.5" stroke="#ef5350" stroke-width="0.6"/>
<rect x="503.31" y="168.1" width="1.9" height="5.9" fill="#ef5350"/>
<line x1="506.75" x2="506.75" y1="171.6" y2="177.0" stroke="#ef5350" stroke-width="0.6"/>
<rect x="505.80" y="174.0" width="1.9" height="1.0" fill="#ef5350"/>
<line x1="509.25" x2="509.25" y1="173.4" y2="183.4" stroke="#ef5350" stroke-width="0.6"/>
<rect x="508.30" y="175.0" width="1.9" height="5.9" fill="#ef5350"/>
<line x1="511.74" x2="511.74" y1="170.3" y2="193.9" stroke="#26a69a" stroke-width="0.6"/>
<rect x="510.79" y="178.7" width="1.9" height="2.2" fill="#26a69a"/>
<line x1="514.23" x2="514.23" y1="170.5" y2="192.5" stroke="#26a69a" stroke-width="0.6"/>
<rect x="513.28" y="175.8" width="1.9" height="2.9" fill="#26a69a"/>
<line x1="516.72" x2="516.72" y1="173.2" y2="179.7" stroke="#ef5350" stroke-width="0.6"/>
<rect x="515.77" y="175.8" width="1.9" height="0.6" fill="#ef5350"/>
<line x1="519.21" x2="519.21" y1="171.7" y2="179.7" stroke="#26a69a" stroke-width="0.6"/>
<rect x="518.26" y="173.6" width="1.9" height="2.6" fill="#26a69a"/>
<line x1="521.70" x2="521.70" y1="160.2" y2="180.0" stroke="#26a69a" stroke-width="0.6"/>
<rect x="520.75" y="162.8" width="1.9" height="10.8" fill="#26a69a"/>
<line x1="524.19" x2="524.19" y1="156.2" y2="180.0" stroke="#ef5350" stroke-width="0.6"/>
<rect x="523.24" y="162.8" width="1.9" height="13.3" fill="#ef5350"/>
<line x1="526.69" x2="526.69" y1="173.4" y2="182.2" stroke="#26a69a" stroke-width="0.6"/>
<rect x="525.74" y="175.7" width="1.9" height="0.6" fill="#26a69a"/>
<line x1="529.18" x2="529.18" y1="170.9" y2="178.7" stroke="#26a69a" stroke-width="0.6"/>
<rect x="528.23" y="173.6" width="1.9" height="2.1" fill="#26a69a"/>
<line x1="531.67" x2="531.67" y1="171.3" y2="176.8" stroke="#26a69a" stroke-width="0.6"/>
<rect x="530.72" y="172.5" width="1.9" height="1.1" fill="#26a69a"/>
<line x1="534.16" x2="534.16" y1="159.4" y2="176.4" stroke="#26a69a" stroke-width="0.6"/>
<rect x="533.21" y="163.1" width="1.9" height="9.4" fill="#26a69a"/>
<line x1="536.65" x2="536.65" y1="158.9" y2="167.1" stroke="#26a69a" stroke-width="0.6"/>
<rect x="535.70" y="161.2" width="1.9" height="1.9" fill="#26a69a"/>
<line x1="539.14" x2="539.14" y1="151.1" y2="168.6" stroke="#ef5350" stroke-width="0.6"/>
<rect x="538.19" y="161.2" width="1.9" height="4.8" fill="#ef5350"/>
<line x1="541.64" x2="541.64" y1="164.4" y2="178.7" stroke="#ef5350" stroke-width="0.6"/>
<rect x="540.69" y="166.0" width="1.9" height="9.6" fill="#ef5350"/>
<line x1="544.13" x2="544.13" y1="174.2" y2="177.1" stroke="#ef5350" stroke-width="0.6"/>
<rect x="543.18" y="175.6" width="1.9" height="0.6" fill="#ef5350"/>
<line x1="546.62" x2="546.62" y1="172.1" y2="178.2" stroke="#26a69a" stroke-width="0.6"/>
<rect x="545.67" y="174.8" width="1.9" height="1.1" fill="#26a69a"/>
<line x1="549.11" x2="549.11" y1="164.2" y2="178.7" stroke="#26a69a" stroke-width="0.6"/>
<rect x="548.16" y="168.4" width="1.9" height="6.4" fill="#26a69a"/>
<line x1="551.60" x2="551.60" y1="163.3" y2="174.2" stroke="#ef5350" stroke-width="0.6"/>
<rect x="550.65" y="168.4" width="1.9" height="1.2" fill="#ef5350"/>
<line x1="554.09" x2="554.09" y1="161.4" y2="175.4" stroke="#26a69a" stroke-width="0.6"/>
<rect x="553.14" y="168.3" width="1.9" height="1.3" fill="#26a69a"/>
<line x1="556.59" x2="556.59" y1="165.3" y2="188.8" stroke="#ef5350" stroke-width="0.6"/>
<rect x="555.64" y="168.3" width="1.9" height="18.4" fill="#ef5350"/>
<line x1="559.08" x2="559.08" y1="174.9" y2="188.6" stroke="#26a69a" stroke-width="0.6"/>
<rect x="558.13" y="180.9" width="1.9" height="5.8" fill="#26a69a"/>
<line x1="561.57" x2="561.57" y1="171.4" y2="185.3" stroke="#26a69a" stroke-width="0.6"/>
<rect x="560.62" y="176.2" width="1.9" height="4.7" fill="#26a69a"/>
<line x1="564.06" x2="564.06" y1="174.9" y2="183.0" stroke="#ef5350" stroke-width="0.6"/>
<rect x="563.11" y="176.2" width="1.9" height="1.4" fill="#ef5350"/>
<line x1="566.55" x2="566.55" y1="155.4" y2="182.2" stroke="#26a69a" stroke-width="0.6"/>
<rect x="565.60" y="161.4" width="1.9" height="16.2" fill="#26a69a"/>
<line x1="569.04" x2="569.04" y1="147.3" y2="167.3" stroke="#26a69a" stroke-width="0.6"/>
<rect x="568.09" y="148.4" width="1.9" height="13.0" fill="#26a69a"/>
<line x1="571.54" x2="571.54" y1="142.4" y2="156.9" stroke="#ef5350" stroke-width="0.6"/>
<rect x="570.59" y="148.4" width="1.9" height="4.3" fill="#ef5350"/>
<line x1="574.03" x2="574.03" y1="148.9" y2="170.6" stroke="#ef5350" stroke-width="0.6"/>
<rect x="573.08" y="152.7" width="1.9" height="12.2" fill="#ef5350"/>
<line x1="576.52" x2="576.52" y1="159.6" y2="184.3" stroke="#ef5350" stroke-width="0.6"/>
<rect x="575.57" y="164.9" width="1.9" height="6.0" fill="#ef5350"/>
<line x1="579.01" x2="579.01" y1="166.9" y2="181.3" stroke="#ef5350" stroke-width="0.6"/>
<rect x="578.06" y="171.0" width="1.9" height="4.7" fill="#ef5350"/>
<line x1="581.50" x2="581.50" y1="169.4" y2="180.3" stroke="#26a69a" stroke-width="0.6"/>
<rect x="580.55" y="174.0" width="1.9" height="1.6" fill="#26a69a"/>
<line x1="583.99" x2="583.99" y1="161.4" y2="175.7" stroke="#ef5350" stroke-width="0.6"/>
<rect x="583.04" y="174.0" width="1.9" height="0.6" fill="#ef5350"/>
<line x1="586.48" x2="586.48" y1="172.6" y2="180.6" stroke="#ef5350" stroke-width="0.6"/>
<rect x="585.53" y="174.4" width="1.9" height="3.2" fill="#ef5350"/>
<line x1="588.98" x2="588.98" y1="174.5" y2="183.0" stroke="#26a69a" stroke-width="0.6"/>
<rect x="588.03" y="176.2" width="1.9" height="1.4" fill="#26a69a"/>
<line x1="591.47" x2="591.47" y1="172.3" y2="180.8" stroke="#ef5350" stroke-width="0.6"/>
<rect x="590.52" y="176.2" width="1.9" height="0.6" fill="#ef5350"/>
<line x1="593.96" x2="593.96" y1="172.4" y2="191.9" stroke="#ef5350" stroke-width="0.6"/>
<rect x="593.01" y="176.5" width="1.9" height="11.0" fill="#ef5350"/>
<line x1="596.45" x2="596.45" y1="184.2" y2="205.8" stroke="#ef5350" stroke-width="0.6"/>
<rect x="595.50" y="187.5" width="1.9" height="10.7" fill="#ef5350"/>
<line x1="598.94" x2="598.94" y1="193.6" y2="215.8" stroke="#ef5350" stroke-width="0.6"/>
<rect x="597.99" y="198.2" width="1.9" height="6.4" fill="#ef5350"/>
<line x1="601.43" x2="601.43" y1="183.6" y2="208.3" stroke="#26a69a" stroke-width="0.6"/>
<rect x="600.48" y="187.1" width="1.9" height="17.5" fill="#26a69a"/>
<line x1="603.93" x2="603.93" y1="179.1" y2="188.5" stroke="#26a69a" stroke-width="0.6"/>
<rect x="602.98" y="183.5" width="1.9" height="3.6" fill="#26a69a"/>
<line x1="606.42" x2="606.42" y1="178.8" y2="188.7" stroke="#ef5350" stroke-width="0.6"/>
<rect x="605.47" y="183.5" width="1.9" height="2.9" fill="#ef5350"/>
<line x1="608.91" x2="608.91" y1="184.9" y2="189.0" stroke="#ef5350" stroke-width="0.6"/>
<rect x="607.96" y="186.3" width="1.9" height="0.6" fill="#ef5350"/>
<line x1="611.40" x2="611.40" y1="181.2" y2="188.7" stroke="#26a69a" stroke-width="0.6"/>
<rect x="610.45" y="185.9" width="1.9" height="0.8" fill="#26a69a"/>
<line x1="613.89" x2="613.89" y1="180.0" y2="191.7" stroke="#26a69a" stroke-width="0.6"/>
<rect x="612.94" y="184.7" width="1.9" height="1.1" fill="#26a69a"/>
<line x1="616.38" x2="616.38" y1="175.0" y2="187.8" stroke="#26a69a" stroke-width="0.6"/>
<rect x="615.43" y="178.6" width="1.9" height="6.1" fill="#26a69a"/>
<line x1="618.88" x2="618.88" y1="175.1" y2="184.5" stroke="#ef5350" stroke-width="0.6"/>
<rect x="617.93" y="178.6" width="1.9" height="1.3" fill="#ef5350"/>
<line x1="621.37" x2="621.37" y1="175.2" y2="191.7" stroke="#ef5350" stroke-width="0.6"/>
<rect x="620.42" y="179.9" width="1.9" height="7.7" fill="#ef5350"/>
<line x1="623.86" x2="623.86" y1="167.4" y2="189.3" stroke="#26a69a" stroke-width="0.6"/>
<rect x="622.91" y="171.8" width="1.9" height="15.9" fill="#26a69a"/>
<line x1="626.35" x2="626.35" y1="167.9" y2="174.3" stroke="#26a69a" stroke-width="0.6"/>
<rect x="625.40" y="169.8" width="1.9" height="2.0" fill="#26a69a"/>
<line x1="628.84" x2="628.84" y1="165.0" y2="180.5" stroke="#ef5350" stroke-width="0.6"/>
<rect x="627.89" y="169.8" width="1.9" height="8.0" fill="#ef5350"/>
<line x1="631.33" x2="631.33" y1="173.1" y2="179.1" stroke="#26a69a" stroke-width="0.6"/>
<rect x="630.38" y="177.1" width="1.9" height="0.8" fill="#26a69a"/>
<line x1="633.83" x2="633.83" y1="170.3" y2="179.6" stroke="#26a69a" stroke-width="0.6"/>
<rect x="632.88" y="171.8" width="1.9" height="5.3" fill="#26a69a"/>
<line x1="636.32" x2="636.32" y1="167.3" y2="179.2" stroke="#ef5350" stroke-width="0.6"/>
<rect x="635.37" y="171.8" width="1.9" height="2.7" fill="#ef5350"/>
<line x1="638.81" x2="638.81" y1="162.9" y2="177.2" stroke="#26a69a" stroke-width="0.6"/>
<rect x="637.86" y="167.6" width="1.9" height="6.9" fill="#26a69a"/>
<line x1="641.30" x2="641.30" y1="148.8" y2="171.4" stroke="#26a69a" stroke-width="0.6"/>
<rect x="640.35" y="152.9" width="1.9" height="14.7" fill="#26a69a"/>
<line x1="643.79" x2="643.79" y1="131.4" y2="154.9" stroke="#26a69a" stroke-width="0.6"/>
<rect x="642.84" y="135.5" width="1.9" height="17.4" fill="#26a69a"/>
<line x1="646.28" x2="646.28" y1="128.2" y2="138.0" stroke="#26a69a" stroke-width="0.6"/>
<rect x="645.33" y="134.9" width="1.9" height="0.7" fill="#26a69a"/>
<line x1="648.77" x2="648.77" y1="127.8" y2="143.1" stroke="#ef5350" stroke-width="0.6"/>
<rect x="647.82" y="134.9" width="1.9" height="1.4" fill="#ef5350"/>
<line x1="651.27" x2="651.27" y1="132.0" y2="140.4" stroke="#26a69a" stroke-width="0.6"/>
<rect x="650.32" y="133.4" width="1.9" height="2.9" fill="#26a69a"/>
<line x1="653.76" x2="653.76" y1="122.9" y2="134.7" stroke="#26a69a" stroke-width="0.6"/>
<rect x="652.81" y="129.5" width="1.9" height="3.9" fill="#26a69a"/>
<line x1="656.25" x2="656.25" y1="124.4" y2="137.3" stroke="#ef5350" stroke-width="0.6"/>
<rect x="655.30" y="129.5" width="1.9" height="2.2" fill="#ef5350"/>
<path d="M5.9,178.6 L8.4,178.1 L10.9,177.6 L13.4,177.0 L15.9,176.7 L18.4,176.4 L20.9,176.3 L23.4,176.2 L25.9,176.1 L28.4,175.8 L30.9,175.1 L33.3,174.1 L35.8,173.2 L38.3,172.1 L40.8,171.0 L43.3,169.5 L45.8,168.3 L48.3,167.3 L50.8,166.4 L53.3,165.5 L55.8,164.7 L58.3,163.9 L60.8,162.9 L63.2,161.9 L65.7,160.7 L68.2,158.8 L70.7,156.9 L73.2,155.1 L75.7,153.3 L78.2,151.4 L80.7,149.7 L83.2,147.3 L85.7,145.0 L88.2,142.7 L90.7,140.3 L93.1,138.0 L95.6,135.7 L98.1,133.8 L100.6,131.5 L103.1,129.2 L105.6,126.6 L108.1,124.0 L110.6,121.4 L113.1,119.5 L115.6,117.7 L118.1,115.4 L120.6,112.8 L123.0,110.2 L125.5,107.5 L128.0,104.6 L130.5,101.8 L133.0,99.3 L135.5,97.4 L138.0,95.9 L140.5,94.1 L143.0,92.5 L145.5,91.0 L148.0,89.2 L150.5,87.1 L152.9,85.0 L155.4,83.9 L157.9,83.0 L160.4,82.2 L162.9,81.8 L165.4,81.4 L167.9,81.5 L170.4,81.3 L172.9,80.8 L175.4,79.7 L177.9,78.7 L180.4,77.7 L182.8,76.5 L185.3,76.2 L187.8,75.8 L190.3,75.5 L192.8,75.7 L195.3,75.8 L197.8,76.0 L200.3,76.4 L202.8,76.8 L205.3,76.6 L207.8,77.2 L210.3,77.4 L212.7,78.0 L215.2,78.9 L217.7,79.7 L220.2,80.3 L222.7,81.0 L225.2,82.0 L227.7,82.9 L230.2,84.2 L232.7,85.7 L235.2,87.2 L237.7,88.5 L240.2,89.4 L242.6,90.6 L245.1,91.7 L247.6,93.2 L250.1,95.1 L252.6,97.2 L255.1,99.5 L257.6,101.7 L260.1,103.5 L262.6,105.0 L265.1,106.6 L267.6,107.9 L270.1,109.1 L272.5,110.7 L275.0,112.1 L277.5,113.7 L280.0,114.9 L282.5,116.1 L285.0,117.5 L287.5,118.6 L290.0,119.9 L292.5,121.1 L295.0,122.3 L297.5,123.8 L300.0,125.4 L302.4,127.0 L304.9,129.2 L307.4,131.5 L309.9,133.5 L312.4,135.4 L314.9,137.3 L317.4,139.3 L319.9,140.7 L322.4,142.9 L324.9,144.7 L327.4,146.6 L329.8,149.0 L332.3,151.2 L334.8,153.6 L337.3,156.1 L339.8,158.7 L342.3,161.3 L344.8,164.0 L347.3,166.6 L349.8,169.3 L352.3,172.0 L354.8,174.7 L357.3,177.2 L359.7,179.6 L362.2,181.5 L364.7,183.7 L367.2,186.1 L369.7,188.7 L372.2,190.8 L374.7,192.3 L377.2,193.9 L379.7,195.2 L382.2,196.7 L384.7,198.2 L387.2,199.8 L389.6,201.3 L392.1,202.9 L394.6,204.3 L397.1,205.9 L399.6,207.6 L402.1,209.3 L404.6,211.0 L407.1,213.2 L409.6,215.3 L412.1,217.7 L414.6,219.6 L417.1,221.9 L419.5,224.1 L422.0,226.1 L424.5,228.3 L427.0,230.6 L429.5,232.4 L432.0,234.1 L434.5,235.6 L437.0,236.9 L439.5,238.1 L442.0,239.3 L444.5,241.1 L447.0,241.9 L449.4,242.6 L451.9,243.5 L454.4,244.3 L456.9,244.9 L459.4,245.7 L461.9,246.1 L464.4,246.2 L466.9,246.5 L469.4,246.6 L471.9,246.7 L474.4,246.8 L476.9,247.1 L479.3,247.2 L481.8,247.4 L484.3,247.6 L486.8,247.3 L489.3,246.6 L491.8,245.5 L494.3,244.5 L496.8,243.5 L499.3,242.4 L501.8,241.3 L504.3,240.3 L506.8,239.3 L509.2,238.2 L511.7,236.9 L514.2,235.5 L516.7,234.2 L519.2,232.9 L521.7,231.3 L524.2,229.9 L526.7,228.6 L529.2,227.1 L531.7,225.2 L534.2,223.1 L536.7,220.8 L539.1,219.0 L541.6,217.0 L544.1,215.2 L546.6,213.5 L549.1,211.6 L551.6,209.7 L554.1,207.8 L556.6,206.2 L559.1,204.5 L561.6,202.7 L564.1,201.0 L566.6,198.9 L569.0,196.5 L571.5,194.6 L574.0,193.0 L576.5,191.4 L579.0,190.0 L581.5,188.6 L584.0,187.2 L586.5,185.8 L589.0,184.4 L591.5,183.0 L594.0,181.9 L596.5,181.1 L598.9,180.3 L601.4,179.2 L603.9,178.0 L606.4,176.8 L608.9,175.7 L611.4,175.2 L613.9,175.1 L616.4,175.2 L618.9,175.3 L621.4,175.5 L623.9,175.7 L626.4,175.7 L628.8,175.8 L631.3,175.8 L633.8,175.6 L636.3,175.5 L638.8,175.4 L641.3,174.9 L643.8,174.2 L646.3,173.6 L648.8,172.8 L651.3,172.0 L653.8,171.1 L656.2,170.3" fill="none" stroke="#f23645" stroke-width="1.8" stroke-linejoin="round" stroke-linecap="round"/>
<path d="M5.9,174.6 L8.4,174.4 L10.9,173.5 L13.4,172.5 L15.9,173.0 L18.4,173.4 L20.9,173.9 L23.4,174.8 L25.9,176.1 L28.4,177.0 L30.9,175.1 L33.3,171.9 L35.8,168.3 L38.3,163.6 L40.8,158.8 L43.3,152.7 L45.8,148.4 L48.3,145.0 L50.8,143.1 L53.3,141.2 L55.8,139.0 L58.3,137.5 L60.8,135.0 L63.2,133.6 L65.7,132.7 L68.2,129.3 L70.7,126.4 L73.2,123.2 L75.7,120.7 L78.2,117.9 L80.7,116.2 L83.2,111.6 L85.7,108.1 L88.2,104.9 L90.7,101.0 L93.1,97.4 L95.6,94.7 L98.1,92.5 L100.6,88.6 L103.1,85.4 L105.6,80.7 L108.1,76.4 L110.6,72.4 L113.1,71.5 L115.6,71.4 L118.1,69.5 L120.6,67.3 L123.0,65.1 L125.5,63.5 L128.0,61.1 L130.5,58.8 L133.0,57.5 L135.5,58.8 L138.0,61.9 L140.5,64.2 L143.0,67.4 L145.5,70.9 L148.0,72.8 L150.5,73.8 L152.9,74.7 L155.4,77.0 L157.9,79.2 L160.4,80.5 L162.9,82.1 L165.4,83.5 L167.9,84.9 L170.4,86.1 L172.9,86.2 L175.4,84.9 L177.9,83.3 L180.4,82.0 L182.8,80.4 L185.3,81.8 L187.8,83.5 L190.3,86.0 L192.8,87.8 L195.3,89.4 L197.8,90.9 L200.3,93.4 L202.8,95.0 L205.3,94.3 L207.8,95.0 L210.3,94.1 L212.7,94.8 L215.2,96.3 L217.7,97.0 L220.2,97.2 L222.7,98.2 L225.2,98.2 L227.7,98.5 L230.2,98.7 L232.7,99.7 L235.2,101.0 L237.7,103.1 L240.2,104.7 L242.6,104.9 L245.1,104.7 L247.6,106.1 L250.1,109.6 L252.6,112.8 L255.1,116.9 L257.6,120.2 L260.1,124.0 L262.6,128.1 L265.1,131.7 L267.6,135.0 L270.1,137.7 L272.5,140.7 L275.0,142.1 L277.5,144.0 L280.0,145.2 L282.5,146.6 L285.0,148.2 L287.5,148.9 L290.0,150.1 L292.5,150.9 L295.0,151.4 L297.5,152.5 L300.0,152.6 L302.4,152.1 L304.9,154.5 L307.4,156.9 L309.9,160.4 L312.4,163.9 L314.9,167.7 L317.4,171.3 L319.9,171.8 L322.4,175.7 L324.9,178.9 L327.4,181.3 L329.8,183.7 L332.3,186.5 L334.8,188.4 L337.3,191.9 L339.8,196.4 L342.3,199.9 L344.8,203.3 L347.3,206.7 L349.8,209.4 L352.3,211.6 L354.8,214.0 L357.3,215.9 L359.7,217.5 L362.2,217.8 L364.7,218.8 L367.2,219.8 L369.7,220.6 L372.2,221.1 L374.7,220.9 L377.2,220.8 L379.7,221.2 L382.2,221.7 L384.7,223.1 L387.2,225.0 L389.6,226.9 L392.1,228.4 L394.6,229.1 L397.1,230.7 L399.6,232.0 L402.1,233.1 L404.6,234.2 L407.1,237.3 L409.6,240.3 L412.1,243.8 L414.6,245.2 L417.1,247.7 L419.5,249.6 L422.0,250.6 L424.5,252.0 L427.0,253.0 L429.5,254.2 L432.0,255.4 L434.5,256.4 L437.0,257.3 L439.5,257.9 L442.0,258.6 L444.5,259.4 L447.0,258.4 L449.4,257.2 L451.9,256.4 L454.4,255.5 L456.9,254.3 L459.4,253.6 L461.9,252.8 L464.4,252.1 L466.9,251.5 L469.4,250.6 L471.9,249.7 L474.4,249.0 L476.9,248.6 L479.3,248.1 L481.8,247.7 L484.3,247.4 L486.8,243.5 L489.3,238.8 L491.8,232.3 L494.3,227.0 L496.8,222.5 L499.3,216.6 L501.8,212.0 L504.3,208.4 L506.8,205.2 L509.2,202.9 L511.7,200.6 L514.2,198.2 L516.7,196.1 L519.2,194.0 L521.7,191.0 L524.2,189.6 L526.7,188.3 L529.2,186.9 L531.7,185.5 L534.2,183.4 L536.7,181.3 L539.1,179.8 L541.6,179.4 L544.1,179.1 L546.6,178.7 L549.1,177.7 L551.6,176.9 L554.1,176.1 L556.6,177.1 L559.1,177.5 L561.6,177.4 L564.1,177.4 L566.6,175.9 L569.0,173.2 L571.5,171.3 L574.0,170.7 L576.5,170.7 L579.0,171.2 L581.5,171.5 L584.0,171.7 L586.5,172.3 L589.0,172.7 L591.5,173.0 L594.0,174.4 L596.5,176.7 L598.9,179.3 L601.4,180.1 L603.9,180.4 L606.4,181.0 L608.9,181.5 L611.4,181.9 L613.9,182.2 L616.4,181.9 L618.9,181.7 L621.4,182.2 L623.9,181.3 L626.4,180.2 L628.8,179.9 L631.3,179.7 L633.8,178.9 L636.3,178.5 L638.8,177.5 L641.3,175.1 L643.8,171.4 L646.3,167.9 L648.8,164.9 L651.3,161.9 L653.8,158.8 L656.2,156.2" fill="none" stroke="#2962ff" stroke-width="1.8" stroke-linejoin="round" stroke-linecap="round"/>
<line x1="5.9" x2="710.7" y1="27.0" y2="27.0" stroke="#0000ff" stroke-width="1.9" stroke-dasharray="8.4 9.63"/>
<line x1="5.9" x2="710.7" y1="215.8" y2="215.8" stroke="#0000ff" stroke-width="1.9" stroke-dasharray="8.4 9.63"/>
<line x1="5.9" x2="710.7" y1="286.9" y2="286.9" stroke="#0000ff" stroke-width="1.9" stroke-dasharray="8.4 9.63"/>
<line x1="558.7" x2="710.7" y1="142.9" y2="142.9" stroke="#0000ff" stroke-width="1.9" stroke-dasharray="8.4 9.63"/>
<line x1="476.3" x2="710.7" y1="156.0" y2="156.0" stroke="#0000ff" stroke-width="1.9" stroke-dasharray="8.4 9.63"/>
<line x1="496.2" x2="710.7" y1="195.9" y2="195.9" stroke="#0000ff" stroke-width="1.9" stroke-dasharray="8.4 9.63"/>
</g>
<g clip-path="url(#rp)">
<line x1="5.5" x2="708.7" y1="328.1" y2="328.1" stroke="#868993" stroke-width="0.62" stroke-dasharray="3.3 2.7"/>
<line x1="5.5" x2="708.7" y1="357.6" y2="357.6" stroke="#868993" stroke-width="0.62" stroke-dasharray="3.3 2.7"/>
<line x1="5.5" x2="708.7" y1="387.0" y2="387.0" stroke="#868993" stroke-width="0.62" stroke-dasharray="3.3 2.7"/>
<path d="M5.9,349.8 L8.4,350.7 L10.9,350.9 L13.4,351.0 L15.9,352.2 L18.4,353.6 L20.9,355.3 L23.4,357.8 L25.9,359.9 L28.4,361.3 L30.9,359.9 L33.3,357.9 L35.8,355.0 L38.3,352.0 L40.8,349.1 L43.3,346.2 L45.8,344.7 L48.3,343.7 L50.8,342.3 L53.3,340.7 L55.8,338.9 L58.3,337.1 L60.8,334.5 L63.2,332.7 L65.7,333.1 L68.2,333.2 L70.7,333.7 L73.2,334.5 L75.7,335.6 L78.2,337.0 L80.7,338.0 L83.2,337.7 L85.7,337.1 L88.2,336.6 L90.7,335.9 L93.1,334.9 L95.6,334.8 L98.1,334.2 L100.6,332.8 L103.1,332.7 L105.6,331.9 L108.1,331.3 L110.6,330.5 L113.1,331.4 L115.6,332.2 L118.1,333.3 L120.6,333.8 L123.0,334.2 L125.5,335.2 L128.0,335.8 L130.5,336.0 L133.0,336.6 L135.5,338.9 L138.0,341.7 L140.5,344.7 L143.0,348.2 L145.5,351.8 L148.0,353.2 L150.5,354.0 L152.9,355.4 L155.4,357.5 L157.9,359.7 L160.4,361.4 L162.9,363.6 L165.4,365.8 L167.9,367.5 L170.4,368.0 L172.9,367.3 L175.4,366.0 L177.9,364.2 L180.4,362.3 L182.8,360.8 L185.3,361.0 L187.8,361.5 L190.3,361.8 L192.8,361.8 L195.3,362.1 L197.8,362.3 L200.3,363.0 L202.8,363.1 L205.3,362.2 L207.8,362.4 L210.3,362.7 L212.7,363.9 L215.2,365.2 L217.7,366.5 L220.2,366.1 L222.7,365.8 L225.2,364.7 L227.7,364.0 L230.2,363.3 L232.7,362.9 L235.2,362.3 L237.7,362.5 L240.2,363.6 L242.6,363.5 L245.1,363.8 L247.6,364.2 L250.1,365.1 L252.6,366.2 L255.1,367.9 L257.6,369.0 L260.1,370.7 L262.6,372.5 L265.1,374.3 L267.6,375.8 L270.1,376.8 L272.5,377.6 L275.0,377.8 L277.5,378.9 L280.0,379.9 L282.5,380.3 L285.0,380.1 L287.5,379.3 L290.0,378.5 L292.5,377.7 L295.0,376.5 L297.5,375.5 L300.0,373.9 L302.4,371.9 L304.9,371.5 L307.4,371.0 L309.9,371.8 L312.4,372.5 L314.9,373.7 L317.4,374.8 L319.9,374.1 L322.4,375.0 L324.9,375.4 L327.4,375.8 L329.8,376.5 L332.3,377.0 L334.8,377.8 L337.3,379.4 L339.8,380.1 L342.3,380.5 L344.8,380.4 L347.3,380.3 L349.8,379.8 L352.3,379.0 L354.8,380.2 L357.3,379.9 L359.7,379.8 L362.2,379.2 L364.7,378.8 L367.2,378.4 L369.7,378.1 L372.2,377.1 L374.7,375.3 L377.2,373.9 L379.7,372.7 L382.2,371.5 L384.7,371.1 L387.2,371.1 L389.6,371.1 L392.1,371.2 L394.6,370.7 L397.1,371.5 L399.6,371.8 L402.1,372.0 L404.6,372.4 L407.1,373.9 L409.6,376.0 L412.1,378.3 L414.6,378.8 L417.1,379.8 L419.5,379.9 L422.0,379.2 L424.5,378.6 L427.0,378.0 L429.5,378.2 L432.0,378.0 L434.5,377.8 L437.0,377.6 L439.5,377.2 L442.0,375.9 L444.5,374.6 L447.0,371.6 L449.4,369.9 L451.9,367.8 L454.4,365.9 L456.9,364.3 L459.4,362.7 L461.9,361.2 L464.4,359.6 L466.9,358.0 L469.4,356.0 L471.9,354.1 L474.4,352.5 L476.9,351.0 L479.3,349.4 L481.8,349.2 L484.3,349.3 L486.8,346.8 L489.3,344.0 L491.8,341.0 L494.3,338.3 L496.8,335.9 L499.3,333.0 L501.8,330.7 L504.3,329.2 L506.8,327.9 L509.2,326.8 L511.7,325.4 L514.2,324.0 L516.7,322.6 L519.2,321.0 L521.7,321.4 L524.2,323.4 L526.7,325.8 L529.2,327.5 L531.7,328.9 L534.2,330.3 L536.7,331.1 L539.1,331.9 L541.6,333.4 L544.1,334.4 L546.6,335.5 L549.1,336.3 L551.6,337.2 L554.1,338.1 L556.6,340.9 L559.1,342.2 L561.6,343.2 L564.1,344.4 L566.6,344.7 L569.0,344.8 L571.5,345.4 L574.0,346.4 L576.5,346.9 L579.0,347.7 L581.5,348.4 L584.0,349.6 L586.5,350.9 L589.0,352.2 L591.5,351.9 L594.0,352.9 L596.5,354.7 L598.9,356.7 L601.4,358.4 L603.9,360.4 L606.4,362.2 L608.9,363.2 L611.4,363.7 L613.9,363.9 L616.4,363.7 L618.9,363.6 L621.4,363.9 L623.9,363.2 L626.4,362.3 L628.8,361.3 L631.3,359.6 L633.8,357.3 L636.3,356.5 L638.8,355.5 L641.3,353.6 L643.8,350.9 L646.3,348.3 L648.8,345.9 L651.3,343.9 L653.8,341.6 L656.2,339.0" fill="none" stroke="#fdd93a" stroke-width="0.72" stroke-linejoin="round"/>
<clipPath id="ob"><rect x="5.5" y="300.2" width="703.2" height="27.9"/></clipPath>
<defs><linearGradient id="gg" gradientUnits="userSpaceOnUse" x1="0" y1="295.7" x2="0" y2="328.1"><stop offset="0" stop-color="#4caf50" stop-opacity="0.6"/><stop offset="0.55" stop-color="#4caf50" stop-opacity="0.28"/><stop offset="1" stop-color="#4caf50" stop-opacity="0"/></linearGradient></defs>
<g clip-path="url(#ob)"><path d="M5.9,361.2 L8.4,354.4 L10.9,347.5 L13.4,345.4 L15.9,361.1 L18.4,361.7 L20.9,363.5 L23.4,367.2 L25.9,372.7 L28.4,369.3 L30.9,341.5 L33.3,331.7 L35.8,328.6 L38.3,322.0 L40.8,320.0 L43.3,314.4 L45.8,326.3 L48.3,331.3 L50.8,341.5 L53.3,340.0 L55.8,337.9 L58.3,342.6 L60.8,336.1 L63.2,344.0 L65.7,346.9 L68.2,333.5 L70.7,335.5 L73.2,332.9 L75.7,335.6 L78.2,333.3 L80.7,340.7 L83.2,327.4 L85.7,333.2 L88.2,332.7 L90.7,328.6 L93.1,328.5 L95.6,333.9 L98.1,336.4 L100.6,327.3 L103.1,331.6 L105.6,324.3 L108.1,324.4 L110.6,324.2 L113.1,346.4 L115.6,351.6 L118.1,342.4 L120.6,340.3 L123.0,339.3 L125.5,341.8 L128.0,337.9 L130.5,336.7 L133.0,343.9 L135.5,360.3 L138.0,370.1 L140.5,366.9 L143.0,372.6 L145.5,374.9 L148.0,366.4 L150.5,362.2 L152.9,362.0 L155.4,370.0 L157.9,370.2 L160.4,365.5 L162.9,368.1 L165.4,367.6 L167.9,368.8 L170.4,367.4 L172.9,359.5 L175.4,349.3 L177.9,346.6 L180.4,348.3 L182.8,345.1 L185.3,365.9 L187.8,368.8 L190.3,374.2 L192.8,370.6 L195.3,369.4 L197.8,370.4 L200.3,377.3 L202.8,370.1 L205.3,354.8 L207.8,363.1 L210.3,353.7 L212.7,362.5 L215.2,366.8 L217.7,362.8 L220.2,360.3 L222.7,364.8 L225.2,359.0 L227.7,360.6 L230.2,360.0 L232.7,365.2 L235.2,368.0 L237.7,373.6 L240.2,370.7 L242.6,360.9 L245.1,357.5 L247.6,368.1 L250.1,379.2 L252.6,378.5 L255.1,384.1 L257.6,379.9 L260.1,383.8 L262.6,386.1 L265.1,385.3 L267.6,385.5 L270.1,382.4 L272.5,385.0 L275.0,372.9 L277.5,376.2 L280.0,372.0 L282.5,373.8 L285.0,375.6 L287.5,368.2 L290.0,372.7 L292.5,368.7 L295.0,366.7 L297.5,371.9 L300.0,362.7 L302.4,358.2 L304.9,376.8 L307.4,377.6 L309.9,384.7 L312.4,385.9 L314.9,388.7 L317.4,389.5 L319.9,365.0 L322.4,380.5 L324.9,379.1 L327.4,374.4 L329.8,376.0 L332.3,378.5 L334.8,374.1 L337.3,381.5 L339.8,386.7 L342.3,382.6 L344.8,383.1 L347.3,384.8 L349.8,380.9 L352.3,378.8 L354.8,381.1 L357.3,377.6 L359.7,377.1 L362.2,366.3 L364.7,370.7 L367.2,371.8 L369.7,370.4 L372.2,368.0 L374.7,361.2 L377.2,362.3 L379.7,366.8 L382.2,367.4 L384.7,375.3 L387.2,379.7 L389.6,381.0 L392.1,379.2 L394.6,369.4 L397.1,377.3 L399.6,374.8 L402.1,374.8 L404.6,375.7 L407.1,389.7 L409.6,391.0 L412.1,394.7 L414.6,373.3 L417.1,381.1 L419.5,376.9 L422.0,370.1 L424.5,372.9 L427.0,370.5 L429.5,372.7 L432.0,373.5 L434.5,372.9 L437.0,372.2 L439.5,369.4 L442.0,371.5 L444.5,372.2 L447.0,352.7 L449.4,349.3 L451.9,352.1 L454.4,350.6 L456.9,347.2 L459.4,350.9 L461.9,350.1 L464.4,350.1 L466.9,350.9 L469.4,345.5 L471.9,345.1 L474.4,346.5 L476.9,351.1 L479.3,349.3 L481.8,350.1 L484.3,351.1 L486.8,316.7 L489.3,311.4 L491.8,305.1 L494.3,313.6 L496.8,315.8 L499.3,310.4 L501.8,318.2 L504.3,324.8 L506.8,325.8 L509.2,332.4 L511.7,331.3 L514.2,329.7 L516.7,330.2 L519.2,328.6 L521.7,322.8 L524.2,338.8 L526.7,338.5 L529.2,337.1 L531.7,336.3 L534.2,330.1 L536.7,329.0 L539.1,335.5 L541.6,347.0 L544.1,347.3 L546.6,346.4 L549.1,340.7 L551.6,342.4 L554.1,341.2 L556.6,362.5 L559.1,356.7 L561.6,352.3 L564.1,353.8 L566.6,340.3 L569.0,332.3 L571.5,337.0 L574.0,349.2 L576.5,354.5 L579.0,358.4 L581.5,357.0 L584.0,357.3 L586.5,360.4 L589.0,358.9 L591.5,359.2 L594.0,369.7 L596.5,377.8 L598.9,382.0 L601.4,363.6 L603.9,360.4 L606.4,362.7 L608.9,363.0 L611.4,362.2 L613.9,360.9 L616.4,354.4 L618.9,355.9 L621.4,364.1 L623.9,348.6 L626.4,346.9 L628.8,355.3 L631.3,354.6 L633.8,349.7 L636.3,352.7 L638.8,346.3 L641.3,335.4 L643.8,326.0 L646.3,325.7 L648.8,327.5 L651.3,325.9 L653.8,323.9 L656.2,327.0 L656.2,328.1 L5.9,328.1 Z" fill="url(#gg)"/></g>
<path d="M5.9,361.2 L8.4,354.4 L10.9,347.5 L13.4,345.4 L15.9,361.1 L18.4,361.7 L20.9,363.5 L23.4,367.2 L25.9,372.7 L28.4,369.3 L30.9,341.5 L33.3,331.7 L35.8,328.6 L38.3,322.0 L40.8,320.0 L43.3,314.4 L45.8,326.3 L48.3,331.3 L50.8,341.5 L53.3,340.0 L55.8,337.9 L58.3,342.6 L60.8,336.1 L63.2,344.0 L65.7,346.9 L68.2,333.5 L70.7,335.5 L73.2,332.9 L75.7,335.6 L78.2,333.3 L80.7,340.7 L83.2,327.4 L85.7,333.2 L88.2,332.7 L90.7,328.6 L93.1,328.5 L95.6,333.9 L98.1,336.4 L100.6,327.3 L103.1,331.6 L105.6,324.3 L108.1,324.4 L110.6,324.2 L113.1,346.4 L115.6,351.6 L118.1,342.4 L120.6,340.3 L123.0,339.3 L125.5,341.8 L128.0,337.9 L130.5,336.7 L133.0,343.9 L135.5,360.3 L138.0,370.1 L140.5,366.9 L143.0,372.6 L145.5,374.9 L148.0,366.4 L150.5,362.2 L152.9,362.0 L155.4,370.0 L157.9,370.2 L160.4,365.5 L162.9,368.1 L165.4,367.6 L167.9,368.8 L170.4,367.4 L172.9,359.5 L175.4,349.3 L177.9,346.6 L180.4,348.3 L182.8,345.1 L185.3,365.9 L187.8,368.8 L190.3,374.2 L192.8,370.6 L195.3,369.4 L197.8,370.4 L200.3,377.3 L202.8,370.1 L205.3,354.8 L207.8,363.1 L210.3,353.7 L212.7,362.5 L215.2,366.8 L217.7,362.8 L220.2,360.3 L222.7,364.8 L225.2,359.0 L227.7,360.6 L230.2,360.0 L232.7,365.2 L235.2,368.0 L237.7,373.6 L240.2,370.7 L242.6,360.9 L245.1,357.5 L247.6,368.1 L250.1,379.2 L252.6,378.5 L255.1,384.1 L257.6,379.9 L260.1,383.8 L262.6,386.1 L265.1,385.3 L267.6,385.5 L270.1,382.4 L272.5,385.0 L275.0,372.9 L277.5,376.2 L280.0,372.0 L282.5,373.8 L285.0,375.6 L287.5,368.2 L290.0,372.7 L292.5,368.7 L295.0,366.7 L297.5,371.9 L300.0,362.7 L302.4,358.2 L304.9,376.8 L307.4,377.6 L309.9,384.7 L312.4,385.9 L314.9,388.7 L317.4,389.5 L319.9,365.0 L322.4,380.5 L324.9,379.1 L327.4,374.4 L329.8,376.0 L332.3,378.5 L334.8,374.1 L337.3,381.5 L339.8,386.7 L342.3,382.6 L344.8,383.1 L347.3,384.8 L349.8,380.9 L352.3,378.8 L354.8,381.1 L357.3,377.6 L359.7,377.1 L362.2,366.3 L364.7,370.7 L367.2,371.8 L369.7,370.4 L372.2,368.0 L374.7,361.2 L377.2,362.3 L379.7,366.8 L382.2,367.4 L384.7,375.3 L387.2,379.7 L389.6,381.0 L392.1,379.2 L394.6,369.4 L397.1,377.3 L399.6,374.8 L402.1,374.8 L404.6,375.7 L407.1,389.7 L409.6,391.0 L412.1,394.7 L414.6,373.3 L417.1,381.1 L419.5,376.9 L422.0,370.1 L424.5,372.9 L427.0,370.5 L429.5,372.7 L432.0,373.5 L434.5,372.9 L437.0,372.2 L439.5,369.4 L442.0,371.5 L444.5,372.2 L447.0,352.7 L449.4,349.3 L451.9,352.1 L454.4,350.6 L456.9,347.2 L459.4,350.9 L461.9,350.1 L464.4,350.1 L466.9,350.9 L469.4,345.5 L471.9,345.1 L474.4,346.5 L476.9,351.1 L479.3,349.3 L481.8,350.1 L484.3,351.1 L486.8,316.7 L489.3,311.4 L491.8,305.1 L494.3,313.6 L496.8,315.8 L499.3,310.4 L501.8,318.2 L504.3,324.8 L506.8,325.8 L509.2,332.4 L511.7,331.3 L514.2,329.7 L516.7,330.2 L519.2,328.6 L521.7,322.8 L524.2,338.8 L526.7,338.5 L529.2,337.1 L531.7,336.3 L534.2,330.1 L536.7,329.0 L539.1,335.5 L541.6,347.0 L544.1,347.3 L546.6,346.4 L549.1,340.7 L551.6,342.4 L554.1,341.2 L556.6,362.5 L559.1,356.7 L561.6,352.3 L564.1,353.8 L566.6,340.3 L569.0,332.3 L571.5,337.0 L574.0,349.2 L576.5,354.5 L579.0,358.4 L581.5,357.0 L584.0,357.3 L586.5,360.4 L589.0,358.9 L591.5,359.2 L594.0,369.7 L596.5,377.8 L598.9,382.0 L601.4,363.6 L603.9,360.4 L606.4,362.7 L608.9,363.0 L611.4,362.2 L613.9,360.9 L616.4,354.4 L618.9,355.9 L621.4,364.1 L623.9,348.6 L626.4,346.9 L628.8,355.3 L631.3,354.6 L633.8,349.7 L636.3,352.7 L638.8,346.3 L641.3,335.4 L643.8,326.0 L646.3,325.7 L648.8,327.5 L651.3,325.9 L653.8,323.9 L656.2,327.0" fill="none" stroke="#7e57c2" stroke-width="1.6" stroke-linejoin="round" stroke-linecap="round"/>
</g>
<text x="6.0" y="6.7" font-size="6.5" fill="#1e222d" text-anchor="start" font-weight="normal" textLength="195.2" lengthAdjust="spacingAndGlyphs">ranadagger created with TradingView.com, Jul 15, 2025 15:27 UTC</text>
<text x="9.8" y="21.3" font-size="6.8" fill="#131722" text-anchor="start" font-weight="normal" textLength="28.3" lengthAdjust="spacingAndGlyphs" >Ethereum</text>
<text x="41.5" y="21.3" font-size="6.8" fill="#131722" text-anchor="start" font-weight="normal" textLength="1.9" lengthAdjust="spacingAndGlyphs" >/</text>
<text x="45.8" y="21.3" font-size="6.8" fill="#131722" text-anchor="start" font-weight="normal" textLength="26.1" lengthAdjust="spacingAndGlyphs" >TetherUS</text>
<text x="74.6" y="21.2" font-size="6.8" fill="#131722" text-anchor="start" font-weight="normal" textLength="1.6" lengthAdjust="spacingAndGlyphs" stroke="#131722" stroke-width="0.3">·</text>
<text x="78.9" y="21.2" font-size="6.8" fill="#131722" text-anchor="start" font-weight="normal" textLength="5.8" lengthAdjust="spacingAndGlyphs" >1D</text>
<text x="87.7" y="21.2" font-size="6.8" fill="#131722" text-anchor="start" font-weight="normal" textLength="1.6" lengthAdjust="spacingAndGlyphs" stroke="#131722" stroke-width="0.3">·</text>
<text x="92.2" y="21.2" font-size="6.8" fill="#131722" text-anchor="start" font-weight="normal" textLength="24.3" lengthAdjust="spacingAndGlyphs" >BINANCE</text>
<text x="121.2" y="21.2" font-size="6.8" fill="#131722" text-anchor="start" font-weight="normal" textLength="3.3" lengthAdjust="spacingAndGlyphs" stroke="#131722" stroke-width="0.25">O</text>
<text x="125.0" y="21.2" font-size="6.8" fill="#ef5350" text-anchor="start" font-weight="normal" textLength="25.2" lengthAdjust="spacingAndGlyphs">3,013.61</text>
<text x="155.5" y="21.2" font-size="6.8" fill="#131722" text-anchor="start" font-weight="normal" textLength="3.3" lengthAdjust="spacingAndGlyphs" stroke="#131722" stroke-width="0.25">H</text>
<text x="159.3" y="21.2" font-size="6.8" fill="#ef5350" text-anchor="start" font-weight="normal" textLength="25.2" lengthAdjust="spacingAndGlyphs">3,067.43</text>
<text x="189.5" y="21.2" font-size="6.8" fill="#131722" text-anchor="start" font-weight="normal" textLength="2.5" lengthAdjust="spacingAndGlyphs" stroke="#131722" stroke-width="0.25">L</text>
<text x="192.4" y="21.2" font-size="6.8" fill="#ef5350" text-anchor="start" font-weight="normal" textLength="24.7" lengthAdjust="spacingAndGlyphs">2,932.46</text>
<text x="221.3" y="21.2" font-size="6.8" fill="#131722" text-anchor="start" font-weight="normal" textLength="3.3" lengthAdjust="spacingAndGlyphs" stroke="#131722" stroke-width="0.25">C</text>
<text x="225.2" y="21.2" font-size="6.8" fill="#ef5350" text-anchor="start" font-weight="normal" textLength="25.5" lengthAdjust="spacingAndGlyphs">2,990.74</text>
<text x="255.2" y="21.2" font-size="6.8" fill="#ef5350" text-anchor="start" font-weight="normal" textLength="46" lengthAdjust="spacingAndGlyphs">−22.88 (−0.76%)</text>
<text x="9.8" y="31.0" font-size="6.8" fill="#131722" text-anchor="start" font-weight="normal" textLength="10.8" lengthAdjust="spacingAndGlyphs" >EMA</text>
<text x="24.0" y="31.0" font-size="6.8" fill="#131722" text-anchor="start" font-weight="normal" textLength="10.2" lengthAdjust="spacingAndGlyphs" >(20,</text>
<text x="38.0" y="31.0" font-size="6.8" fill="#131722" text-anchor="start" font-weight="normal" textLength="16.2" lengthAdjust="spacingAndGlyphs" >close)</text>
<text x="58.5" y="31.0" font-size="6.8" fill="#2962ff" text-anchor="start" font-weight="normal" textLength="25.6" lengthAdjust="spacingAndGlyphs" >2,734.23</text>
<text x="9.8" y="40.0" font-size="6.8" fill="#131722" text-anchor="start" font-weight="normal" textLength="10.8" lengthAdjust="spacingAndGlyphs" >SMA</text>
<text x="24.0" y="40.0" font-size="6.8" fill="#131722" text-anchor="start" font-weight="normal" textLength="10.2" lengthAdjust="spacingAndGlyphs" >(50,</text>
<text x="38.0" y="40.0" font-size="6.8" fill="#131722" text-anchor="start" font-weight="normal" textLength="16.2" lengthAdjust="spacingAndGlyphs" >close)</text>
<text x="58.5" y="40.0" font-size="6.8" fill="#f23645" text-anchor="start" font-weight="normal" textLength="25.6" lengthAdjust="spacingAndGlyphs" >2,587.20</text>
<text x="713.4" y="266.6" font-size="6.7" fill="#131722" text-anchor="start" font-weight="normal" textLength="25.7" lengthAdjust="spacingAndGlyphs">1,600.00</text>
<text x="713.4" y="247.5" font-size="6.7" fill="#131722" text-anchor="start" font-weight="normal" textLength="25.7" lengthAdjust="spacingAndGlyphs">1,800.00</text>
<text x="713.4" y="228.4" font-size="6.7" fill="#131722" text-anchor="start" font-weight="normal" textLength="25.7" lengthAdjust="spacingAndGlyphs">2,000.00</text>
<text x="713.4" y="209.3" font-size="6.7" fill="#131722" text-anchor="start" font-weight="normal" textLength="25.7" lengthAdjust="spacingAndGlyphs">2,200.00</text>
<text x="713.4" y="113.7" font-size="6.7" fill="#131722" text-anchor="start" font-weight="normal" textLength="25.7" lengthAdjust="spacingAndGlyphs">3,200.00</text>
<text x="713.4" y="94.6" font-size="6.7" fill="#131722" text-anchor="start" font-weight="normal" textLength="25.7" lengthAdjust="spacingAndGlyphs">3,400.00</text>
<text x="713.4" y="75.5" font-size="6.7" fill="#131722" text-anchor="start" font-weight="normal" textLength="25.7" lengthAdjust="spacingAndGlyphs">3,600.00</text>
<text x="713.4" y="56.4" font-size="6.7" fill="#131722" text-anchor="start" font-weight="normal" textLength="25.7" lengthAdjust="spacingAndGlyphs">3,800.00</text>
<text x="713.4" y="38.3" font-size="6.7" fill="#131722" text-anchor="start" font-weight="normal" textLength="25.7" lengthAdjust="spacingAndGlyphs">4,000.00</text>
<text x="713.4" y="190.2" font-size="6.7" fill="#131722" text-anchor="start" font-weight="normal" textLength="25.7" lengthAdjust="spacingAndGlyphs">2,400.00</text>
<text x="713.4" y="285.0" font-size="6.7" fill="#131722" text-anchor="start" font-weight="normal" textLength="25.7" lengthAdjust="spacingAndGlyphs">1,400.00</text>
<rect x="710.7" y="13.7" width="31.3" height="13.2" rx="1.6" fill="#fff" stroke="#e9ebf0" stroke-width="0.7" stroke-dasharray="1.1 0.9"/>
<text x="715.5" y="22.6" font-size="6.6" fill="#131722" text-anchor="start" font-weight="normal" textLength="15.2" lengthAdjust="spacingAndGlyphs">USDT</text>
<rect x="709" y="29.4" width="33" height="2.2" fill="#0000ff"/>
<rect x="677.2" y="127.0" width="31.1" height="9.3" fill="#ef5350"/>
<text x="680.2" y="134.1" font-size="6.6" fill="#fff" text-anchor="start" font-weight="normal" textLength="25.2" lengthAdjust="spacingAndGlyphs" stroke="#fff" stroke-width="0.18">ETHUSDT</text>
<rect x="708.7" y="127.0" width="33.0" height="24.8" fill="#ef5350"/>
<text x="713.4" y="134.0" font-size="6.7" fill="#fff" text-anchor="start" font-weight="normal" textLength="25.7" lengthAdjust="spacingAndGlyphs" stroke="#fff" stroke-width="0.18">2,990.74</text>
<text x="714.6" y="141.6" font-size="6.7" fill="#fff" text-anchor="start" font-weight="normal" textLength="23.4" lengthAdjust="spacingAndGlyphs" stroke="#fff" stroke-width="0.18">+20.47%</text>
<text x="714.0" y="148.9" font-size="6.7" fill="#fde3e3" text-anchor="start" font-weight="normal" textLength="24.6" lengthAdjust="spacingAndGlyphs">08:32:21</text>
<rect x="708.7" y="151.8" width="33.0" height="18.2" fill="#0000ff"/>
<text x="713.4" y="158.7" font-size="6.7" fill="#fff" text-anchor="start" font-weight="normal" textLength="25.7" lengthAdjust="spacingAndGlyphs" stroke="#fff" stroke-width="0.18">2,879.00</text>
<text x="713.4" y="167.6" font-size="6.7" fill="#fff" text-anchor="start" font-weight="normal" textLength="25.7" lengthAdjust="spacingAndGlyphs" stroke="#fff" stroke-width="0.18">2,738.50</text>
<rect x="691.9" y="170.6" width="16.4" height="9.0" fill="#2d6aff"/>
<text x="694.6" y="177.5" font-size="6.6" fill="#fff" text-anchor="start" font-weight="normal" textLength="11.2" lengthAdjust="spacingAndGlyphs" stroke="#fff" stroke-width="0.18">EMA</text>
<rect x="708.7" y="170.6" width="33.0" height="9.0" fill="#2d6aff"/>
<text x="713.4" y="177.6" font-size="6.7" fill="#fff" text-anchor="start" font-weight="normal" textLength="25.7" lengthAdjust="spacingAndGlyphs" stroke="#fff" stroke-width="0.18">2,734.23</text>
<rect x="681.0" y="180.1" width="27.3" height="8.5" fill="#f23645"/>
<text x="683.6" y="186.8" font-size="6.6" fill="#fff" text-anchor="start" font-weight="normal" textLength="22.2" lengthAdjust="spacingAndGlyphs" stroke="#fff" stroke-width="0.18">SMA:MA</text>
<rect x="708.7" y="180.1" width="33.0" height="8.5" fill="#f23645"/>
<text x="713.4" y="186.9" font-size="6.7" fill="#fff" text-anchor="start" font-weight="normal" textLength="25.7" lengthAdjust="spacingAndGlyphs" stroke="#fff" stroke-width="0.18">2,587.20</text>
<rect x="708.7" y="191.2" width="33.0" height="9.0" fill="#0000ff"/>
<text x="713.4" y="198.1" font-size="6.7" fill="#fff" text-anchor="start" font-weight="normal" textLength="25.7" lengthAdjust="spacingAndGlyphs" stroke="#fff" stroke-width="0.18">2,323.00</text>
<rect x="708.7" y="211.3" width="33.0" height="9.0" fill="#0000ff"/>
<text x="713.4" y="218.2" font-size="6.7" fill="#fff" text-anchor="start" font-weight="normal" textLength="25.7" lengthAdjust="spacingAndGlyphs" stroke="#fff" stroke-width="0.18">2,111.00</text>
<rect x="708.7" y="282.6" width="33.0" height="8.9" fill="#0000ff"/>
<text x="713.4" y="289.4" font-size="6.7" fill="#fff" text-anchor="start" font-weight="normal" textLength="25.7" lengthAdjust="spacingAndGlyphs" stroke="#fff" stroke-width="0.18">1,368.00</text>
<text x="713.7" y="315.8" font-size="6.7" fill="#131722" text-anchor="start" font-weight="normal" textLength="15.9" lengthAdjust="spacingAndGlyphs">80.00</text>
<text x="713.7" y="346.5" font-size="6.7" fill="#131722" text-anchor="start" font-weight="normal" textLength="15.9" lengthAdjust="spacingAndGlyphs">60.00</text>
<text x="713.7" y="374.7" font-size="6.7" fill="#131722" text-anchor="start" font-weight="normal" textLength="15.9" lengthAdjust="spacingAndGlyphs">40.00</text>
<rect x="695.3" y="322.8" width="13.0" height="8.7" fill="#7e57c2"/>
<text x="697.6" y="329.5" font-size="6.6" fill="#fff" text-anchor="start" font-weight="normal" textLength="8.6" lengthAdjust="spacingAndGlyphs" stroke="#fff" stroke-width="0.18">RSI</text>
<rect x="708.7" y="322.8" width="23.5" height="8.7" fill="#7e57c2"/>
<text x="713.7" y="329.5" font-size="6.7" fill="#fff" text-anchor="start" font-weight="normal" textLength="15.9" lengthAdjust="spacingAndGlyphs" stroke="#fff" stroke-width="0.18">70.79</text>
<rect x="665.5" y="334.8" width="42.8" height="8.8" fill="#ffeb3b"/>
<text x="668.2" y="341.6" font-size="6.6" fill="#131722" text-anchor="start" font-weight="normal" textLength="37.6" lengthAdjust="spacingAndGlyphs">RSI-based MA</text>
<rect x="708.7" y="334.8" width="23.5" height="8.8" fill="#ffeb3b"/>
<text x="713.7" y="341.6" font-size="6.7" fill="#131722" text-anchor="start" font-weight="normal" textLength="15.9" lengthAdjust="spacingAndGlyphs">62.64</text>
<text x="9.7" y="310.8" font-size="6.8" fill="#131722" text-anchor="start" font-weight="normal" textLength="8.8" lengthAdjust="spacingAndGlyphs" >RSI</text>
<text x="21.5" y="310.8" font-size="6.8" fill="#131722" text-anchor="start" font-weight="normal" textLength="9.6" lengthAdjust="spacingAndGlyphs" >(14,</text>
<text x="34.3" y="310.8" font-size="6.8" fill="#131722" text-anchor="start" font-weight="normal" textLength="17.0" lengthAdjust="spacingAndGlyphs" >close)</text>
<text x="55.8" y="310.8" font-size="6.8" fill="#7e57c2" text-anchor="start" font-weight="normal" textLength="15.9" lengthAdjust="spacingAndGlyphs">70.79</text>
<text x="75.3" y="310.8" font-size="6.8" fill="#f6cb3c" text-anchor="start" font-weight="normal" textLength="16.0" lengthAdjust="spacingAndGlyphs">62.64</text>
<text x="96.4" y="310.8" font-size="6.8" fill="#131722" text-anchor="start" font-weight="normal" textLength="3.6" lengthAdjust="spacingAndGlyphs" stroke="#131722" stroke-width="0.2">Ø</text>
<text x="104.3" y="310.8" font-size="6.8" fill="#131722" text-anchor="start" font-weight="normal" textLength="3.6" lengthAdjust="spacingAndGlyphs" stroke="#131722" stroke-width="0.2">Ø</text>
<text x="112.7" y="310.8" font-size="6.8" fill="#131722" text-anchor="start" font-weight="normal" textLength="3.6" lengthAdjust="spacingAndGlyphs" stroke="#131722" stroke-width="0.2">Ø</text>
<text x="121.1" y="310.8" font-size="6.8" fill="#131722" text-anchor="start" font-weight="normal" textLength="3.6" lengthAdjust="spacingAndGlyphs" stroke="#131722" stroke-width="0.2">Ø</text>
<text x="18.4" y="409.2" font-size="6.6" fill="#131722" text-anchor="middle" font-weight="normal" textLength="10.9" lengthAdjust="spacingAndGlyphs">Nov</text>
<text x="93.1" y="409.2" font-size="6.6" fill="#131722" text-anchor="middle" font-weight="normal" textLength="10.3" lengthAdjust="spacingAndGlyphs">Dec</text>
<text x="170.4" y="409.2" font-size="6.6" fill="#131722" text-anchor="middle" font-weight="bold" textLength="14.8" lengthAdjust="spacingAndGlyphs">2025</text>
<text x="247.6" y="409.2" font-size="6.6" fill="#131722" text-anchor="middle" font-weight="normal" textLength="9.6" lengthAdjust="spacingAndGlyphs">Feb</text>
<text x="317.4" y="409.2" font-size="6.6" fill="#131722" text-anchor="middle" font-weight="normal" textLength="10.4" lengthAdjust="spacingAndGlyphs">Mar</text>
<text x="394.6" y="409.2" font-size="6.6" fill="#131722" text-anchor="middle" font-weight="normal" textLength="9.8" lengthAdjust="spacingAndGlyphs">Apr</text>
<text x="469.4" y="409.2" font-size="6.6" fill="#131722" text-anchor="middle" font-weight="normal" textLength="11.5" lengthAdjust="spacingAndGlyphs">May</text>
<text x="546.6" y="409.2" font-size="6.6" fill="#131722" text-anchor="middle" font-weight="normal" textLength="9.3" lengthAdjust="spacingAndGlyphs">Jun</text>
<text x="621.4" y="409.2" font-size="6.6" fill="#131722" text-anchor="middle" font-weight="normal" textLength="7.3" lengthAdjust="spacingAndGlyphs">Jul</text>
<text x="698.6" y="409.2" font-size="6.6" fill="#131722" text-anchor="middle" font-weight="normal" textLength="10.8" lengthAdjust="spacingAndGlyphs">Aug</text>
<g transform="translate(655.6,293)"><circle r="5.4" fill="#fff" stroke="#ab4fc0" stroke-width="1.0"/><path d="M1.2,-3.2 L-2.2,0.6 L-0.2,0.6 L-1.2,3.2 L2.2,-0.6 L0.2,-0.6 Z" fill="#a544ba"/><circle cx="3.7" cy="-3.5" r="1.5" fill="#f23645" stroke="#fff" stroke-width="0.6"/></g>
<g transform="translate(5.6,421.3)" fill="#1e222d"><path d="M0,0 H4.3 V5.5 H2.15 V2.15 H0 Z"/><circle cx="6.1" cy="1.2" r="1.2"/><path d="M8.4,0 H10.85 L8.56,5.5 H6.11 Z"/></g>
<text x="18.6" y="426.9" font-size="7.3" fill="#2a2e39" text-anchor="start" font-weight="normal" textLength="37.9" lengthAdjust="spacingAndGlyphs" stroke="#2a2e39" stroke-width="0.22">TradingView</text>
</svg>
</body></html>
